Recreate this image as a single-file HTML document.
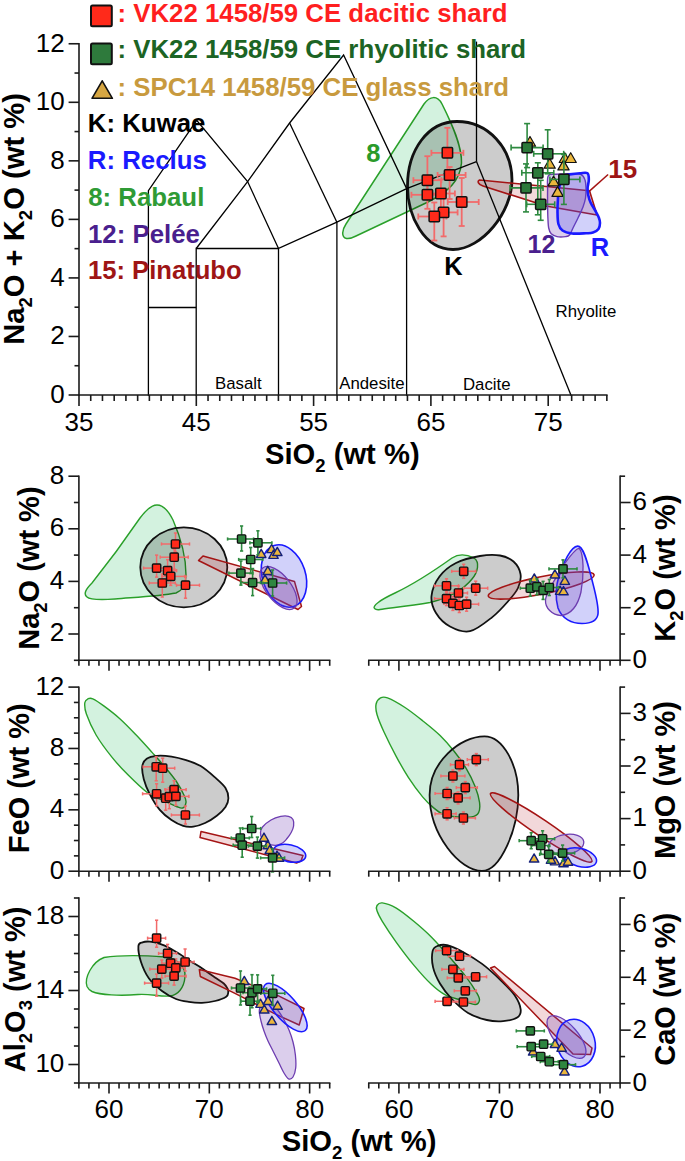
<!DOCTYPE html><html><head><meta charset="utf-8"><style>html,body{margin:0;padding:0;background:#fff;}svg{display:block;font-family:"Liberation Sans", sans-serif;}</style></head><body>
<svg width="685" height="1161" viewBox="0 0 685 1161">
<rect width="685" height="1161" fill="#fff"/>
<path d="M346.5,238.5 C341,237 342,230 346,224 L424,104 C430,96 437,95 442,104 C452,124 462,146 461.5,163 C460,181 448,192 428,202 L356,236 C352,238 349,239 346.5,238.5 Z" fill="rgba(70,200,120,0.24)" stroke="#2aa02a" stroke-width="1.5" stroke-linejoin="round"/>
<path d="M457,121.5 C488,121.5 512,148 512,180 C512,212 482,249.5 453,249.5 C424,249.5 407.5,216 407.5,186 C407.5,150 428,121.5 457,121.5 Z" fill="rgba(0,0,0,0.2)" stroke="#111" stroke-width="2.8" stroke-linejoin="round"/>
<path d="M479.5,180 L589.5,190.8 L597,215 L546,206 L483,186 C478,184.5 477,181 479.5,180 Z" fill="rgba(185,40,50,0.18)" stroke="#a41414" stroke-width="1.6" stroke-linejoin="round"/>
<path d="M548.20,176.00 C546.80,178.63 547.70,185.17 547.60,190.00 C547.50,194.83 547.55,200.33 547.60,205.00 C547.65,209.67 547.72,214.17 547.90,218.00 C548.08,221.83 548.15,225.37 548.70,228.00 C549.25,230.63 549.82,232.37 551.20,233.80 C552.58,235.23 554.62,236.13 557.00,236.60 C559.38,237.07 563.40,236.87 565.50,236.60 C567.60,236.33 568.35,236.43 569.60,235.00 C570.85,233.57 571.60,230.83 573.00,228.00 C574.40,225.17 576.33,221.50 578.00,218.00 C579.67,214.50 581.75,210.33 583.00,207.00 C584.25,203.67 585.00,201.17 585.50,198.00 C586.00,194.83 586.08,191.00 586.00,188.00 C585.92,185.00 585.83,182.25 585.00,180.00 C584.17,177.75 583.50,175.57 581.00,174.50 C578.50,173.43 574.17,173.65 570.00,173.60 C565.83,173.55 559.63,173.80 556.00,174.20 C552.37,174.60 549.60,173.37 548.20,176.00 Z" fill="rgba(110,60,180,0.25)" stroke="#6d3db0" stroke-width="1.4" stroke-linejoin="round"/>
<path d="M569.60,174.40 C572.02,174.02 577.02,173.40 580.00,173.20 C582.98,173.00 586.03,172.07 587.50,173.20 C588.97,174.33 588.78,177.53 588.80,180.00 C588.82,182.47 587.70,185.50 587.60,188.00 C587.50,190.50 587.67,192.50 588.20,195.00 C588.73,197.50 589.63,200.42 590.80,203.00 C591.97,205.58 593.87,208.08 595.20,210.50 C596.53,212.92 598.00,215.42 598.80,217.50 C599.60,219.58 600.05,221.08 600.00,223.00 C599.95,224.92 599.67,227.40 598.50,229.00 C597.33,230.60 595.08,231.88 593.00,232.60 C590.92,233.32 589.50,233.15 586.00,233.30 C582.50,233.45 575.92,233.97 572.00,233.50 C568.08,233.03 564.77,232.08 562.50,230.50 C560.23,228.92 559.23,227.08 558.40,224.00 C557.57,220.92 557.58,216.17 557.50,212.00 C557.42,207.83 557.65,203.00 557.90,199.00 C558.15,195.00 558.32,191.25 559.00,188.00 C559.68,184.75 560.92,181.58 562.00,179.50 C563.08,177.42 564.23,176.35 565.50,175.50 C566.77,174.65 567.18,174.78 569.60,174.40 Z" fill="rgba(70,70,235,0.25)" stroke="#1a1aff" stroke-width="2.6" stroke-linejoin="round"/>
<line x1="589.70" y1="190.90" x2="608.10" y2="174.50" stroke="#a41414" stroke-width="1.5" />
<polyline points="148.40,395.80 148.40,190.60 196.70,120.40 247.60,181.60 278.50,248.50" fill="none" stroke="#000" stroke-width="1.3"/>
<polyline points="148.40,307.50 196.20,307.50" fill="none" stroke="#000" stroke-width="1.3"/>
<polyline points="196.20,395.80 196.20,248.50 278.50,248.50" fill="none" stroke="#000" stroke-width="1.3"/>
<polyline points="278.50,395.80 278.50,248.50 336.90,222.20 406.60,188.60 476.50,161.60" fill="none" stroke="#000" stroke-width="1.3"/>
<polyline points="336.90,395.80 336.90,222.20" fill="none" stroke="#000" stroke-width="1.3"/>
<polyline points="406.60,395.80 406.60,188.60" fill="none" stroke="#000" stroke-width="1.3"/>
<polyline points="196.20,248.50 247.60,181.60 289.60,123.00 343.60,55.00 406.60,188.60" fill="none" stroke="#000" stroke-width="1.3"/>
<polyline points="289.60,123.00 336.90,222.20" fill="none" stroke="#000" stroke-width="1.3"/>
<polyline points="476.50,161.60 476.50,41.60" fill="none" stroke="#000" stroke-width="1.3"/>
<polyline points="476.50,161.60 571.20,395.80" fill="none" stroke="#000" stroke-width="1.3"/>
<text x="215.00" y="388.50" font-size="16.8" text-anchor="start" font-weight="normal" fill="#000" >Basalt</text>
<text x="339.20" y="388.50" font-size="16.8" text-anchor="start" font-weight="normal" fill="#000" >Andesite</text>
<text x="463.00" y="389.50" font-size="16.8" text-anchor="start" font-weight="normal" fill="#000" >Dacite</text>
<text x="555.60" y="316.50" font-size="16.8" text-anchor="start" font-weight="normal" fill="#000" >Rhyolite</text>
<line x1="79.00" y1="43.06" x2="79.00" y2="395.70" stroke="#1a1a1a" stroke-width="1.6" />
<line x1="78.30" y1="395.00" x2="607.60" y2="395.00" stroke="#1a1a1a" stroke-width="1.6" />
<line x1="68.60" y1="395.00" x2="79.00" y2="395.00" stroke="#1a1a1a" stroke-width="1.6" />
<text x="64.60" y="403.00" font-size="26" text-anchor="end" font-weight="normal" fill="#000" >0</text>
<line x1="74.50" y1="365.73" x2="79.00" y2="365.73" stroke="#1a1a1a" stroke-width="1.6" />
<line x1="68.60" y1="336.46" x2="79.00" y2="336.46" stroke="#1a1a1a" stroke-width="1.6" />
<text x="64.60" y="344.46" font-size="26" text-anchor="end" font-weight="normal" fill="#000" >2</text>
<line x1="74.50" y1="307.19" x2="79.00" y2="307.19" stroke="#1a1a1a" stroke-width="1.6" />
<line x1="68.60" y1="277.92" x2="79.00" y2="277.92" stroke="#1a1a1a" stroke-width="1.6" />
<text x="64.60" y="285.92" font-size="26" text-anchor="end" font-weight="normal" fill="#000" >4</text>
<line x1="74.50" y1="248.65" x2="79.00" y2="248.65" stroke="#1a1a1a" stroke-width="1.6" />
<line x1="68.60" y1="219.38" x2="79.00" y2="219.38" stroke="#1a1a1a" stroke-width="1.6" />
<text x="64.60" y="227.38" font-size="26" text-anchor="end" font-weight="normal" fill="#000" >6</text>
<line x1="74.50" y1="190.11" x2="79.00" y2="190.11" stroke="#1a1a1a" stroke-width="1.6" />
<line x1="68.60" y1="160.84" x2="79.00" y2="160.84" stroke="#1a1a1a" stroke-width="1.6" />
<text x="64.60" y="168.84" font-size="26" text-anchor="end" font-weight="normal" fill="#000" >8</text>
<line x1="74.50" y1="131.57" x2="79.00" y2="131.57" stroke="#1a1a1a" stroke-width="1.6" />
<line x1="68.60" y1="102.30" x2="79.00" y2="102.30" stroke="#1a1a1a" stroke-width="1.6" />
<text x="64.60" y="110.30" font-size="26" text-anchor="end" font-weight="normal" fill="#000" >10</text>
<line x1="74.50" y1="73.03" x2="79.00" y2="73.03" stroke="#1a1a1a" stroke-width="1.6" />
<line x1="68.60" y1="43.76" x2="79.00" y2="43.76" stroke="#1a1a1a" stroke-width="1.6" />
<text x="64.60" y="51.76" font-size="26" text-anchor="end" font-weight="normal" fill="#000" >12</text>
<line x1="79.00" y1="395.00" x2="79.00" y2="406.00" stroke="#1a1a1a" stroke-width="1.6" />
<text x="79.00" y="431.00" font-size="26" text-anchor="middle" font-weight="normal" fill="#000" >35</text>
<line x1="90.73" y1="395.00" x2="90.73" y2="401.00" stroke="#1a1a1a" stroke-width="1.6" />
<line x1="102.46" y1="395.00" x2="102.46" y2="401.00" stroke="#1a1a1a" stroke-width="1.6" />
<line x1="114.19" y1="395.00" x2="114.19" y2="401.00" stroke="#1a1a1a" stroke-width="1.6" />
<line x1="125.92" y1="395.00" x2="125.92" y2="401.00" stroke="#1a1a1a" stroke-width="1.6" />
<line x1="137.65" y1="395.00" x2="137.65" y2="401.00" stroke="#1a1a1a" stroke-width="1.6" />
<line x1="149.38" y1="395.00" x2="149.38" y2="401.00" stroke="#1a1a1a" stroke-width="1.6" />
<line x1="161.11" y1="395.00" x2="161.11" y2="401.00" stroke="#1a1a1a" stroke-width="1.6" />
<line x1="172.84" y1="395.00" x2="172.84" y2="401.00" stroke="#1a1a1a" stroke-width="1.6" />
<line x1="184.57" y1="395.00" x2="184.57" y2="401.00" stroke="#1a1a1a" stroke-width="1.6" />
<line x1="196.30" y1="395.00" x2="196.30" y2="406.00" stroke="#1a1a1a" stroke-width="1.6" />
<text x="196.30" y="431.00" font-size="26" text-anchor="middle" font-weight="normal" fill="#000" >45</text>
<line x1="208.03" y1="395.00" x2="208.03" y2="401.00" stroke="#1a1a1a" stroke-width="1.6" />
<line x1="219.76" y1="395.00" x2="219.76" y2="401.00" stroke="#1a1a1a" stroke-width="1.6" />
<line x1="231.49" y1="395.00" x2="231.49" y2="401.00" stroke="#1a1a1a" stroke-width="1.6" />
<line x1="243.22" y1="395.00" x2="243.22" y2="401.00" stroke="#1a1a1a" stroke-width="1.6" />
<line x1="254.95" y1="395.00" x2="254.95" y2="401.00" stroke="#1a1a1a" stroke-width="1.6" />
<line x1="266.68" y1="395.00" x2="266.68" y2="401.00" stroke="#1a1a1a" stroke-width="1.6" />
<line x1="278.41" y1="395.00" x2="278.41" y2="401.00" stroke="#1a1a1a" stroke-width="1.6" />
<line x1="290.14" y1="395.00" x2="290.14" y2="401.00" stroke="#1a1a1a" stroke-width="1.6" />
<line x1="301.87" y1="395.00" x2="301.87" y2="401.00" stroke="#1a1a1a" stroke-width="1.6" />
<line x1="313.60" y1="395.00" x2="313.60" y2="406.00" stroke="#1a1a1a" stroke-width="1.6" />
<text x="313.60" y="431.00" font-size="26" text-anchor="middle" font-weight="normal" fill="#000" >55</text>
<line x1="325.33" y1="395.00" x2="325.33" y2="401.00" stroke="#1a1a1a" stroke-width="1.6" />
<line x1="337.06" y1="395.00" x2="337.06" y2="401.00" stroke="#1a1a1a" stroke-width="1.6" />
<line x1="348.79" y1="395.00" x2="348.79" y2="401.00" stroke="#1a1a1a" stroke-width="1.6" />
<line x1="360.52" y1="395.00" x2="360.52" y2="401.00" stroke="#1a1a1a" stroke-width="1.6" />
<line x1="372.25" y1="395.00" x2="372.25" y2="401.00" stroke="#1a1a1a" stroke-width="1.6" />
<line x1="383.98" y1="395.00" x2="383.98" y2="401.00" stroke="#1a1a1a" stroke-width="1.6" />
<line x1="395.71" y1="395.00" x2="395.71" y2="401.00" stroke="#1a1a1a" stroke-width="1.6" />
<line x1="407.44" y1="395.00" x2="407.44" y2="401.00" stroke="#1a1a1a" stroke-width="1.6" />
<line x1="419.17" y1="395.00" x2="419.17" y2="401.00" stroke="#1a1a1a" stroke-width="1.6" />
<line x1="430.90" y1="395.00" x2="430.90" y2="406.00" stroke="#1a1a1a" stroke-width="1.6" />
<text x="430.90" y="431.00" font-size="26" text-anchor="middle" font-weight="normal" fill="#000" >65</text>
<line x1="442.63" y1="395.00" x2="442.63" y2="401.00" stroke="#1a1a1a" stroke-width="1.6" />
<line x1="454.36" y1="395.00" x2="454.36" y2="401.00" stroke="#1a1a1a" stroke-width="1.6" />
<line x1="466.09" y1="395.00" x2="466.09" y2="401.00" stroke="#1a1a1a" stroke-width="1.6" />
<line x1="477.82" y1="395.00" x2="477.82" y2="401.00" stroke="#1a1a1a" stroke-width="1.6" />
<line x1="489.55" y1="395.00" x2="489.55" y2="401.00" stroke="#1a1a1a" stroke-width="1.6" />
<line x1="501.28" y1="395.00" x2="501.28" y2="401.00" stroke="#1a1a1a" stroke-width="1.6" />
<line x1="513.01" y1="395.00" x2="513.01" y2="401.00" stroke="#1a1a1a" stroke-width="1.6" />
<line x1="524.74" y1="395.00" x2="524.74" y2="401.00" stroke="#1a1a1a" stroke-width="1.6" />
<line x1="536.47" y1="395.00" x2="536.47" y2="401.00" stroke="#1a1a1a" stroke-width="1.6" />
<line x1="548.20" y1="395.00" x2="548.20" y2="406.00" stroke="#1a1a1a" stroke-width="1.6" />
<text x="548.20" y="431.00" font-size="26" text-anchor="middle" font-weight="normal" fill="#000" >75</text>
<line x1="559.93" y1="395.00" x2="559.93" y2="401.00" stroke="#1a1a1a" stroke-width="1.6" />
<line x1="571.66" y1="395.00" x2="571.66" y2="401.00" stroke="#1a1a1a" stroke-width="1.6" />
<line x1="583.39" y1="395.00" x2="583.39" y2="401.00" stroke="#1a1a1a" stroke-width="1.6" />
<line x1="595.12" y1="395.00" x2="595.12" y2="401.00" stroke="#1a1a1a" stroke-width="1.6" />
<line x1="606.85" y1="395.00" x2="606.85" y2="401.00" stroke="#1a1a1a" stroke-width="1.6" />
<line x1="431.40" y1="152.80" x2="463.40" y2="152.80" stroke="#f26a6a" stroke-width="1.8" />
<line x1="431.40" y1="149.80" x2="431.40" y2="155.80" stroke="#f26a6a" stroke-width="1.8" />
<line x1="463.40" y1="149.80" x2="463.40" y2="155.80" stroke="#f26a6a" stroke-width="1.8" />
<line x1="447.40" y1="127.80" x2="447.40" y2="176.80" stroke="#f26a6a" stroke-width="1.8" />
<line x1="444.40" y1="127.80" x2="450.40" y2="127.80" stroke="#f26a6a" stroke-width="1.8" />
<line x1="444.40" y1="176.80" x2="450.40" y2="176.80" stroke="#f26a6a" stroke-width="1.8" />
<line x1="437.60" y1="175.00" x2="465.60" y2="175.00" stroke="#f26a6a" stroke-width="1.8" />
<line x1="437.60" y1="172.00" x2="437.60" y2="178.00" stroke="#f26a6a" stroke-width="1.8" />
<line x1="465.60" y1="172.00" x2="465.60" y2="178.00" stroke="#f26a6a" stroke-width="1.8" />
<line x1="449.60" y1="167.00" x2="449.60" y2="199.00" stroke="#f26a6a" stroke-width="1.8" />
<line x1="446.60" y1="167.00" x2="452.60" y2="167.00" stroke="#f26a6a" stroke-width="1.8" />
<line x1="446.60" y1="199.00" x2="452.60" y2="199.00" stroke="#f26a6a" stroke-width="1.8" />
<line x1="413.40" y1="180.20" x2="441.40" y2="180.20" stroke="#f26a6a" stroke-width="1.8" />
<line x1="413.40" y1="177.20" x2="413.40" y2="183.20" stroke="#f26a6a" stroke-width="1.8" />
<line x1="441.40" y1="177.20" x2="441.40" y2="183.20" stroke="#f26a6a" stroke-width="1.8" />
<line x1="427.40" y1="156.20" x2="427.40" y2="190.20" stroke="#f26a6a" stroke-width="1.8" />
<line x1="424.40" y1="156.20" x2="430.40" y2="156.20" stroke="#f26a6a" stroke-width="1.8" />
<line x1="424.40" y1="190.20" x2="430.40" y2="190.20" stroke="#f26a6a" stroke-width="1.8" />
<line x1="411.40" y1="194.80" x2="441.40" y2="194.80" stroke="#f26a6a" stroke-width="1.8" />
<line x1="411.40" y1="191.80" x2="411.40" y2="197.80" stroke="#f26a6a" stroke-width="1.8" />
<line x1="441.40" y1="191.80" x2="441.40" y2="197.80" stroke="#f26a6a" stroke-width="1.8" />
<line x1="427.40" y1="182.80" x2="427.40" y2="208.80" stroke="#f26a6a" stroke-width="1.8" />
<line x1="424.40" y1="182.80" x2="430.40" y2="182.80" stroke="#f26a6a" stroke-width="1.8" />
<line x1="424.40" y1="208.80" x2="430.40" y2="208.80" stroke="#f26a6a" stroke-width="1.8" />
<line x1="426.90" y1="193.50" x2="454.90" y2="193.50" stroke="#f26a6a" stroke-width="1.8" />
<line x1="426.90" y1="190.50" x2="426.90" y2="196.50" stroke="#f26a6a" stroke-width="1.8" />
<line x1="454.90" y1="190.50" x2="454.90" y2="196.50" stroke="#f26a6a" stroke-width="1.8" />
<line x1="440.90" y1="179.50" x2="440.90" y2="209.50" stroke="#f26a6a" stroke-width="1.8" />
<line x1="437.90" y1="179.50" x2="443.90" y2="179.50" stroke="#f26a6a" stroke-width="1.8" />
<line x1="437.90" y1="209.50" x2="443.90" y2="209.50" stroke="#f26a6a" stroke-width="1.8" />
<line x1="447.70" y1="202.00" x2="478.70" y2="202.00" stroke="#f26a6a" stroke-width="1.8" />
<line x1="447.70" y1="199.00" x2="447.70" y2="205.00" stroke="#f26a6a" stroke-width="1.8" />
<line x1="478.70" y1="199.00" x2="478.70" y2="205.00" stroke="#f26a6a" stroke-width="1.8" />
<line x1="461.70" y1="178.00" x2="461.70" y2="226.00" stroke="#f26a6a" stroke-width="1.8" />
<line x1="458.70" y1="178.00" x2="464.70" y2="178.00" stroke="#f26a6a" stroke-width="1.8" />
<line x1="458.70" y1="226.00" x2="464.70" y2="226.00" stroke="#f26a6a" stroke-width="1.8" />
<line x1="429.60" y1="212.40" x2="457.60" y2="212.40" stroke="#f26a6a" stroke-width="1.8" />
<line x1="429.60" y1="209.40" x2="429.60" y2="215.40" stroke="#f26a6a" stroke-width="1.8" />
<line x1="457.60" y1="209.40" x2="457.60" y2="215.40" stroke="#f26a6a" stroke-width="1.8" />
<line x1="443.60" y1="192.40" x2="443.60" y2="236.40" stroke="#f26a6a" stroke-width="1.8" />
<line x1="440.60" y1="192.40" x2="446.60" y2="192.40" stroke="#f26a6a" stroke-width="1.8" />
<line x1="440.60" y1="236.40" x2="446.60" y2="236.40" stroke="#f26a6a" stroke-width="1.8" />
<line x1="418.30" y1="216.50" x2="446.30" y2="216.50" stroke="#f26a6a" stroke-width="1.8" />
<line x1="418.30" y1="213.50" x2="418.30" y2="219.50" stroke="#f26a6a" stroke-width="1.8" />
<line x1="446.30" y1="213.50" x2="446.30" y2="219.50" stroke="#f26a6a" stroke-width="1.8" />
<line x1="434.30" y1="202.50" x2="434.30" y2="240.50" stroke="#f26a6a" stroke-width="1.8" />
<line x1="431.30" y1="202.50" x2="437.30" y2="202.50" stroke="#f26a6a" stroke-width="1.8" />
<line x1="431.30" y1="240.50" x2="437.30" y2="240.50" stroke="#f26a6a" stroke-width="1.8" />
<polygon points="530.00,136.45 535.60,146.20 524.40,146.20" fill="#ebb63c" stroke="#111" stroke-width="1.2" stroke-linejoin="round"/>
<polygon points="549.70,158.45 555.30,168.20 544.10,168.20" fill="#ebb63c" stroke="#111" stroke-width="1.2" stroke-linejoin="round"/>
<polygon points="564.80,152.75 570.40,162.50 559.20,162.50" fill="#ebb63c" stroke="#111" stroke-width="1.2" stroke-linejoin="round"/>
<polygon points="570.70,152.75 576.30,162.50 565.10,162.50" fill="#ebb63c" stroke="#111" stroke-width="1.2" stroke-linejoin="round"/>
<polygon points="563.50,160.15 569.10,169.90 557.90,169.90" fill="#ebb63c" stroke="#111" stroke-width="1.2" stroke-linejoin="round"/>
<polygon points="553.60,176.15 559.20,185.90 548.00,185.90" fill="#ebb63c" stroke="#111" stroke-width="1.2" stroke-linejoin="round"/>
<polygon points="557.60,186.65 563.20,196.40 552.00,196.40" fill="#ebb63c" stroke="#111" stroke-width="1.2" stroke-linejoin="round"/>
<line x1="511.10" y1="147.60" x2="543.10" y2="147.60" stroke="#2e8a40" stroke-width="1.6" />
<line x1="511.10" y1="144.60" x2="511.10" y2="150.60" stroke="#2e8a40" stroke-width="1.6" />
<line x1="543.10" y1="144.60" x2="543.10" y2="150.60" stroke="#2e8a40" stroke-width="1.6" />
<line x1="527.10" y1="123.60" x2="527.10" y2="167.60" stroke="#2e8a40" stroke-width="1.6" />
<line x1="524.10" y1="123.60" x2="530.10" y2="123.60" stroke="#2e8a40" stroke-width="1.6" />
<line x1="524.10" y1="167.60" x2="530.10" y2="167.60" stroke="#2e8a40" stroke-width="1.6" />
<line x1="533.70" y1="153.80" x2="563.70" y2="153.80" stroke="#2e8a40" stroke-width="1.6" />
<line x1="533.70" y1="150.80" x2="533.70" y2="156.80" stroke="#2e8a40" stroke-width="1.6" />
<line x1="563.70" y1="150.80" x2="563.70" y2="156.80" stroke="#2e8a40" stroke-width="1.6" />
<line x1="547.70" y1="129.80" x2="547.70" y2="173.80" stroke="#2e8a40" stroke-width="1.6" />
<line x1="544.70" y1="129.80" x2="550.70" y2="129.80" stroke="#2e8a40" stroke-width="1.6" />
<line x1="544.70" y1="173.80" x2="550.70" y2="173.80" stroke="#2e8a40" stroke-width="1.6" />
<line x1="521.80" y1="172.80" x2="553.80" y2="172.80" stroke="#2e8a40" stroke-width="1.6" />
<line x1="521.80" y1="169.80" x2="521.80" y2="175.80" stroke="#2e8a40" stroke-width="1.6" />
<line x1="553.80" y1="169.80" x2="553.80" y2="175.80" stroke="#2e8a40" stroke-width="1.6" />
<line x1="537.80" y1="162.80" x2="537.80" y2="214.80" stroke="#2e8a40" stroke-width="1.6" />
<line x1="534.80" y1="162.80" x2="540.80" y2="162.80" stroke="#2e8a40" stroke-width="1.6" />
<line x1="534.80" y1="214.80" x2="540.80" y2="214.80" stroke="#2e8a40" stroke-width="1.6" />
<line x1="549.90" y1="179.40" x2="579.90" y2="179.40" stroke="#2e8a40" stroke-width="1.6" />
<line x1="549.90" y1="176.40" x2="549.90" y2="182.40" stroke="#2e8a40" stroke-width="1.6" />
<line x1="579.90" y1="176.40" x2="579.90" y2="182.40" stroke="#2e8a40" stroke-width="1.6" />
<line x1="563.90" y1="154.40" x2="563.90" y2="204.40" stroke="#2e8a40" stroke-width="1.6" />
<line x1="560.90" y1="154.40" x2="566.90" y2="154.40" stroke="#2e8a40" stroke-width="1.6" />
<line x1="560.90" y1="204.40" x2="566.90" y2="204.40" stroke="#2e8a40" stroke-width="1.6" />
<line x1="510.00" y1="187.90" x2="543.00" y2="187.90" stroke="#2e8a40" stroke-width="1.6" />
<line x1="510.00" y1="184.90" x2="510.00" y2="190.90" stroke="#2e8a40" stroke-width="1.6" />
<line x1="543.00" y1="184.90" x2="543.00" y2="190.90" stroke="#2e8a40" stroke-width="1.6" />
<line x1="526.00" y1="163.90" x2="526.00" y2="211.90" stroke="#2e8a40" stroke-width="1.6" />
<line x1="523.00" y1="163.90" x2="529.00" y2="163.90" stroke="#2e8a40" stroke-width="1.6" />
<line x1="523.00" y1="211.90" x2="529.00" y2="211.90" stroke="#2e8a40" stroke-width="1.6" />
<line x1="526.70" y1="204.30" x2="554.70" y2="204.30" stroke="#2e8a40" stroke-width="1.6" />
<line x1="526.70" y1="201.30" x2="526.70" y2="207.30" stroke="#2e8a40" stroke-width="1.6" />
<line x1="554.70" y1="201.30" x2="554.70" y2="207.30" stroke="#2e8a40" stroke-width="1.6" />
<line x1="540.70" y1="180.30" x2="540.70" y2="220.30" stroke="#2e8a40" stroke-width="1.6" />
<line x1="537.70" y1="180.30" x2="543.70" y2="180.30" stroke="#2e8a40" stroke-width="1.6" />
<line x1="537.70" y1="220.30" x2="543.70" y2="220.30" stroke="#2e8a40" stroke-width="1.6" />
<rect x="522.00" y="142.50" width="10.2" height="10.2" rx="1" fill="#2c7a3a" stroke="#111" stroke-width="1.5"/>
<rect x="542.60" y="148.70" width="10.2" height="10.2" rx="1" fill="#2c7a3a" stroke="#111" stroke-width="1.5"/>
<rect x="532.70" y="167.70" width="10.2" height="10.2" rx="1" fill="#2c7a3a" stroke="#111" stroke-width="1.5"/>
<rect x="558.80" y="174.30" width="10.2" height="10.2" rx="1" fill="#2c7a3a" stroke="#111" stroke-width="1.5"/>
<rect x="520.90" y="182.80" width="10.2" height="10.2" rx="1" fill="#2c7a3a" stroke="#111" stroke-width="1.5"/>
<rect x="535.60" y="199.20" width="10.2" height="10.2" rx="1" fill="#2c7a3a" stroke="#111" stroke-width="1.5"/>
<rect x="442.20" y="147.60" width="10.4" height="10.4" rx="1" fill="#ff2a1a" stroke="#111" stroke-width="1.5"/>
<rect x="444.40" y="169.80" width="10.4" height="10.4" rx="1" fill="#ff2a1a" stroke="#111" stroke-width="1.5"/>
<rect x="422.20" y="175.00" width="10.4" height="10.4" rx="1" fill="#ff2a1a" stroke="#111" stroke-width="1.5"/>
<rect x="422.20" y="189.60" width="10.4" height="10.4" rx="1" fill="#ff2a1a" stroke="#111" stroke-width="1.5"/>
<rect x="435.70" y="188.30" width="10.4" height="10.4" rx="1" fill="#ff2a1a" stroke="#111" stroke-width="1.5"/>
<rect x="456.50" y="196.80" width="10.4" height="10.4" rx="1" fill="#ff2a1a" stroke="#111" stroke-width="1.5"/>
<rect x="438.40" y="207.20" width="10.4" height="10.4" rx="1" fill="#ff2a1a" stroke="#111" stroke-width="1.5"/>
<rect x="429.10" y="211.30" width="10.4" height="10.4" rx="1" fill="#ff2a1a" stroke="#111" stroke-width="1.5"/>
<rect x="91" y="5.5" width="20.8" height="20.8" rx="1.5" fill="#ff2a1a" stroke="#111" stroke-width="2"/>
<rect x="91" y="43.5" width="20.8" height="20.8" rx="1.5" fill="#2e7a3c" stroke="#111" stroke-width="2"/>
<polygon points="102.2,80.8 112.4,98.3 92,98.3" fill="#d6a642" stroke="#111" stroke-width="1.6" stroke-linejoin="round"/>
<text x="117.50" y="21.90" font-size="25.8" text-anchor="start" font-weight="bold" fill="#ff1f1f" >: VK22 1458/59 CE dacitic shard</text>
<text x="117.50" y="58.40" font-size="25.8" text-anchor="start" font-weight="bold" fill="#1c6424" >: VK22 1458/59 CE rhyolitic shard</text>
<text x="117.50" y="96.00" font-size="25.8" text-anchor="start" font-weight="bold" fill="#c89a3e" >: SPC14 1458/59 CE glass shard</text>
<text x="87.80" y="132.30" font-size="25.8" text-anchor="start" font-weight="bold" fill="#000" >K: Kuwae</text>
<text x="87.80" y="168.90" font-size="25.8" text-anchor="start" font-weight="bold" fill="#1a1aff" >R: Reclus</text>
<text x="88.20" y="205.70" font-size="25.8" text-anchor="start" font-weight="bold" fill="#2f9b35" >8: Rabaul</text>
<text x="88.00" y="242.50" font-size="25.8" text-anchor="start" font-weight="bold" fill="#4a1f8e" >12: Pel&#233;e</text>
<text x="88.00" y="279.40" font-size="25.6" text-anchor="start" font-weight="bold" fill="#9e1515" >15: Pinatubo</text>
<text x="366.30" y="162.00" font-size="25.5" text-anchor="start" font-weight="bold" fill="#2a9a2a" >8</text>
<text x="444.30" y="275.40" font-size="25.5" text-anchor="start" font-weight="bold" fill="#000" >K</text>
<text x="527.50" y="252.50" font-size="25" text-anchor="start" font-weight="bold" fill="#4a1f8e" >12</text>
<text x="590.80" y="256.10" font-size="25.5" text-anchor="start" font-weight="bold" fill="#1a1aff" >R</text>
<text x="608.30" y="178.10" font-size="26" text-anchor="start" font-weight="bold" fill="#9e1515" >15</text>
<text x="265" y="464" font-size="29.2" font-weight="bold">SiO<tspan font-size="18.5" dy="7.5">2</tspan><tspan dy="-7.5"> (wt %)</tspan></text>
<text transform="translate(24.4,344.8) rotate(-90)" font-size="29.2" font-weight="bold">Na<tspan font-size="18.5" dy="7.7">2</tspan><tspan dy="-7.7">O + K</tspan><tspan font-size="18.5" dy="7.7">2</tspan><tspan dy="-7.7">O (wt %)</tspan></text>
<path d="M87,597 C83,594 86,589 92,583 C108,563 125,540 140,518 C146,510 152,505 157,505 C163,505 168,510 173,520 C180,536 186,556 186,575 C186,585 183,590 176,593 C160,596 140,597 115,599 C100,600 90,600 87,597 Z" fill="rgba(70,200,120,0.24)" stroke="#2aa02a" stroke-width="1.4" stroke-linejoin="round"/>
<ellipse cx="183.8" cy="567.3" rx="43.5" ry="40" transform="rotate(0 183.8 567.3)" fill="rgba(0,0,0,0.2)" stroke="#111" stroke-width="1.8"/>
<path d="M198.5,560.5 L203,556 L294.5,581.5 L301.5,606.5 L298,609.5 Z" fill="rgba(185,40,50,0.18)" stroke="#a41414" stroke-width="1.5" stroke-linejoin="round"/>
<ellipse cx="284" cy="576" rx="21.5" ry="32" transform="rotate(-18 284 576)" fill="rgba(70,70,235,0.25)" stroke="#1a1aff" stroke-width="1.6"/>
<ellipse cx="278.5" cy="588" rx="25.5" ry="12.5" transform="rotate(52 278.5 588)" fill="rgba(110,60,180,0.25)" stroke="#6d3db0" stroke-width="1.3"/>
<line x1="161.50" y1="544.00" x2="189.50" y2="544.00" stroke="#f26a6a" stroke-width="1.5" />
<line x1="161.50" y1="542.40" x2="161.50" y2="545.60" stroke="#f26a6a" stroke-width="1.5" />
<line x1="189.50" y1="542.40" x2="189.50" y2="545.60" stroke="#f26a6a" stroke-width="1.5" />
<line x1="175.50" y1="533.00" x2="175.50" y2="552.00" stroke="#f26a6a" stroke-width="1.5" />
<line x1="173.90" y1="533.00" x2="177.10" y2="533.00" stroke="#f26a6a" stroke-width="1.5" />
<line x1="173.90" y1="552.00" x2="177.10" y2="552.00" stroke="#f26a6a" stroke-width="1.5" />
<line x1="160.20" y1="557.20" x2="188.20" y2="557.20" stroke="#f26a6a" stroke-width="1.5" />
<line x1="160.20" y1="555.60" x2="160.20" y2="558.80" stroke="#f26a6a" stroke-width="1.5" />
<line x1="188.20" y1="555.60" x2="188.20" y2="558.80" stroke="#f26a6a" stroke-width="1.5" />
<line x1="174.20" y1="549.20" x2="174.20" y2="569.20" stroke="#f26a6a" stroke-width="1.5" />
<line x1="172.60" y1="549.20" x2="175.80" y2="549.20" stroke="#f26a6a" stroke-width="1.5" />
<line x1="172.60" y1="569.20" x2="175.80" y2="569.20" stroke="#f26a6a" stroke-width="1.5" />
<line x1="143.60" y1="568.10" x2="169.60" y2="568.10" stroke="#f26a6a" stroke-width="1.5" />
<line x1="143.60" y1="566.50" x2="143.60" y2="569.70" stroke="#f26a6a" stroke-width="1.5" />
<line x1="169.60" y1="566.50" x2="169.60" y2="569.70" stroke="#f26a6a" stroke-width="1.5" />
<line x1="156.60" y1="555.10" x2="156.60" y2="577.10" stroke="#f26a6a" stroke-width="1.5" />
<line x1="155.00" y1="555.10" x2="158.20" y2="555.10" stroke="#f26a6a" stroke-width="1.5" />
<line x1="155.00" y1="577.10" x2="158.20" y2="577.10" stroke="#f26a6a" stroke-width="1.5" />
<line x1="158.60" y1="570.70" x2="176.60" y2="570.70" stroke="#f26a6a" stroke-width="1.5" />
<line x1="158.60" y1="569.10" x2="158.60" y2="572.30" stroke="#f26a6a" stroke-width="1.5" />
<line x1="176.60" y1="569.10" x2="176.60" y2="572.30" stroke="#f26a6a" stroke-width="1.5" />
<line x1="167.60" y1="559.70" x2="167.60" y2="580.70" stroke="#f26a6a" stroke-width="1.5" />
<line x1="166.00" y1="559.70" x2="169.20" y2="559.70" stroke="#f26a6a" stroke-width="1.5" />
<line x1="166.00" y1="580.70" x2="169.20" y2="580.70" stroke="#f26a6a" stroke-width="1.5" />
<line x1="161.70" y1="576.40" x2="184.70" y2="576.40" stroke="#f26a6a" stroke-width="1.5" />
<line x1="161.70" y1="574.80" x2="161.70" y2="578.00" stroke="#f26a6a" stroke-width="1.5" />
<line x1="184.70" y1="574.80" x2="184.70" y2="578.00" stroke="#f26a6a" stroke-width="1.5" />
<line x1="170.70" y1="566.40" x2="170.70" y2="585.40" stroke="#f26a6a" stroke-width="1.5" />
<line x1="169.10" y1="566.40" x2="172.30" y2="566.40" stroke="#f26a6a" stroke-width="1.5" />
<line x1="169.10" y1="585.40" x2="172.30" y2="585.40" stroke="#f26a6a" stroke-width="1.5" />
<line x1="149.30" y1="583.00" x2="175.30" y2="583.00" stroke="#f26a6a" stroke-width="1.5" />
<line x1="149.30" y1="581.40" x2="149.30" y2="584.60" stroke="#f26a6a" stroke-width="1.5" />
<line x1="175.30" y1="581.40" x2="175.30" y2="584.60" stroke="#f26a6a" stroke-width="1.5" />
<line x1="162.30" y1="574.00" x2="162.30" y2="597.00" stroke="#f26a6a" stroke-width="1.5" />
<line x1="160.70" y1="574.00" x2="163.90" y2="574.00" stroke="#f26a6a" stroke-width="1.5" />
<line x1="160.70" y1="597.00" x2="163.90" y2="597.00" stroke="#f26a6a" stroke-width="1.5" />
<line x1="176.50" y1="585.20" x2="199.50" y2="585.20" stroke="#f26a6a" stroke-width="1.5" />
<line x1="176.50" y1="583.60" x2="176.50" y2="586.80" stroke="#f26a6a" stroke-width="1.5" />
<line x1="199.50" y1="583.60" x2="199.50" y2="586.80" stroke="#f26a6a" stroke-width="1.5" />
<line x1="185.50" y1="576.20" x2="185.50" y2="598.20" stroke="#f26a6a" stroke-width="1.5" />
<line x1="183.90" y1="576.20" x2="187.10" y2="576.20" stroke="#f26a6a" stroke-width="1.5" />
<line x1="183.90" y1="598.20" x2="187.10" y2="598.20" stroke="#f26a6a" stroke-width="1.5" />
<polygon points="261.20,549.29 265.90,557.47 256.50,557.47" fill="#ebb63c" stroke="#14207a" stroke-width="1.4" stroke-linejoin="round"/>
<polygon points="271.60,544.49 276.30,552.67 266.90,552.67" fill="#ebb63c" stroke="#14207a" stroke-width="1.4" stroke-linejoin="round"/>
<polygon points="273.50,550.19 278.20,558.37 268.80,558.37" fill="#ebb63c" stroke="#14207a" stroke-width="1.4" stroke-linejoin="round"/>
<polygon points="277.30,547.39 282.00,555.57 272.60,555.57" fill="#ebb63c" stroke="#14207a" stroke-width="1.4" stroke-linejoin="round"/>
<polygon points="267.80,566.29 272.50,574.47 263.10,574.47" fill="#ebb63c" stroke="#14207a" stroke-width="1.4" stroke-linejoin="round"/>
<polygon points="265.00,574.89 269.70,583.07 260.30,583.07" fill="#ebb63c" stroke="#14207a" stroke-width="1.4" stroke-linejoin="round"/>
<line x1="227.60" y1="539.00" x2="253.60" y2="539.00" stroke="#2e8a40" stroke-width="1.6" />
<line x1="227.60" y1="537.40" x2="227.60" y2="540.60" stroke="#2e8a40" stroke-width="1.6" />
<line x1="253.60" y1="537.40" x2="253.60" y2="540.60" stroke="#2e8a40" stroke-width="1.6" />
<line x1="241.60" y1="526.00" x2="241.60" y2="551.00" stroke="#2e8a40" stroke-width="1.6" />
<line x1="240.00" y1="526.00" x2="243.20" y2="526.00" stroke="#2e8a40" stroke-width="1.6" />
<line x1="240.00" y1="551.00" x2="243.20" y2="551.00" stroke="#2e8a40" stroke-width="1.6" />
<line x1="249.90" y1="542.80" x2="271.90" y2="542.80" stroke="#2e8a40" stroke-width="1.6" />
<line x1="249.90" y1="541.20" x2="249.90" y2="544.40" stroke="#2e8a40" stroke-width="1.6" />
<line x1="271.90" y1="541.20" x2="271.90" y2="544.40" stroke="#2e8a40" stroke-width="1.6" />
<line x1="257.90" y1="530.80" x2="257.90" y2="554.80" stroke="#2e8a40" stroke-width="1.6" />
<line x1="256.30" y1="530.80" x2="259.50" y2="530.80" stroke="#2e8a40" stroke-width="1.6" />
<line x1="256.30" y1="554.80" x2="259.50" y2="554.80" stroke="#2e8a40" stroke-width="1.6" />
<line x1="238.70" y1="559.50" x2="262.70" y2="559.50" stroke="#2e8a40" stroke-width="1.6" />
<line x1="238.70" y1="557.90" x2="238.70" y2="561.10" stroke="#2e8a40" stroke-width="1.6" />
<line x1="262.70" y1="557.90" x2="262.70" y2="561.10" stroke="#2e8a40" stroke-width="1.6" />
<line x1="250.70" y1="547.50" x2="250.70" y2="573.50" stroke="#2e8a40" stroke-width="1.6" />
<line x1="249.10" y1="547.50" x2="252.30" y2="547.50" stroke="#2e8a40" stroke-width="1.6" />
<line x1="249.10" y1="573.50" x2="252.30" y2="573.50" stroke="#2e8a40" stroke-width="1.6" />
<line x1="228.90" y1="573.10" x2="252.90" y2="573.10" stroke="#2e8a40" stroke-width="1.6" />
<line x1="228.90" y1="571.50" x2="228.90" y2="574.70" stroke="#2e8a40" stroke-width="1.6" />
<line x1="252.90" y1="571.50" x2="252.90" y2="574.70" stroke="#2e8a40" stroke-width="1.6" />
<line x1="240.90" y1="561.10" x2="240.90" y2="585.10" stroke="#2e8a40" stroke-width="1.6" />
<line x1="239.30" y1="561.10" x2="242.50" y2="561.10" stroke="#2e8a40" stroke-width="1.6" />
<line x1="239.30" y1="585.10" x2="242.50" y2="585.10" stroke="#2e8a40" stroke-width="1.6" />
<line x1="240.60" y1="582.60" x2="260.60" y2="582.60" stroke="#2e8a40" stroke-width="1.6" />
<line x1="240.60" y1="581.00" x2="240.60" y2="584.20" stroke="#2e8a40" stroke-width="1.6" />
<line x1="260.60" y1="581.00" x2="260.60" y2="584.20" stroke="#2e8a40" stroke-width="1.6" />
<line x1="252.60" y1="568.60" x2="252.60" y2="595.60" stroke="#2e8a40" stroke-width="1.6" />
<line x1="251.00" y1="568.60" x2="254.20" y2="568.60" stroke="#2e8a40" stroke-width="1.6" />
<line x1="251.00" y1="595.60" x2="254.20" y2="595.60" stroke="#2e8a40" stroke-width="1.6" />
<line x1="262.60" y1="583.00" x2="286.60" y2="583.00" stroke="#2e8a40" stroke-width="1.6" />
<line x1="262.60" y1="581.40" x2="262.60" y2="584.60" stroke="#2e8a40" stroke-width="1.6" />
<line x1="286.60" y1="581.40" x2="286.60" y2="584.60" stroke="#2e8a40" stroke-width="1.6" />
<line x1="272.60" y1="570.00" x2="272.60" y2="596.00" stroke="#2e8a40" stroke-width="1.6" />
<line x1="271.00" y1="570.00" x2="274.20" y2="570.00" stroke="#2e8a40" stroke-width="1.6" />
<line x1="271.00" y1="596.00" x2="274.20" y2="596.00" stroke="#2e8a40" stroke-width="1.6" />
<rect x="237.45" y="534.85" width="8.3" height="8.3" rx="1" fill="#2f8640" stroke="#111" stroke-width="1.4"/>
<rect x="253.75" y="538.65" width="8.3" height="8.3" rx="1" fill="#2f8640" stroke="#111" stroke-width="1.4"/>
<rect x="246.55" y="555.35" width="8.3" height="8.3" rx="1" fill="#2f8640" stroke="#111" stroke-width="1.4"/>
<rect x="236.75" y="568.95" width="8.3" height="8.3" rx="1" fill="#2f8640" stroke="#111" stroke-width="1.4"/>
<rect x="248.45" y="578.45" width="8.3" height="8.3" rx="1" fill="#2f8640" stroke="#111" stroke-width="1.4"/>
<rect x="268.45" y="578.85" width="8.3" height="8.3" rx="1" fill="#2f8640" stroke="#111" stroke-width="1.4"/>
<rect x="171.35" y="539.85" width="8.3" height="8.3" rx="1" fill="#ff2a1a" stroke="#111" stroke-width="1.4"/>
<rect x="170.05" y="553.05" width="8.3" height="8.3" rx="1" fill="#ff2a1a" stroke="#111" stroke-width="1.4"/>
<rect x="152.45" y="563.95" width="8.3" height="8.3" rx="1" fill="#ff2a1a" stroke="#111" stroke-width="1.4"/>
<rect x="163.45" y="566.55" width="8.3" height="8.3" rx="1" fill="#ff2a1a" stroke="#111" stroke-width="1.4"/>
<rect x="166.55" y="572.25" width="8.3" height="8.3" rx="1" fill="#ff2a1a" stroke="#111" stroke-width="1.4"/>
<rect x="158.15" y="578.85" width="8.3" height="8.3" rx="1" fill="#ff2a1a" stroke="#111" stroke-width="1.4"/>
<rect x="181.35" y="581.05" width="8.3" height="8.3" rx="1" fill="#ff2a1a" stroke="#111" stroke-width="1.4"/>
<path d="M374.5,608.5 C372,606 380,600 395,593 C418,582 438,568 452,558 C458,554 466,554 474,558 C480,562 478,572 472,579 C464,589 452,597 430,602.5 C410,606 390,608 380,609.5 C377,610 375.5,609.5 374.5,608.5 Z" fill="rgba(70,200,120,0.24)" stroke="#2aa02a" stroke-width="1.4" stroke-linejoin="round"/>
<path d="M431.50,596.00 C432.08,589.92 435.42,582.00 439.50,576.50 C443.58,571.00 449.25,566.42 456.00,563.00 C462.75,559.58 472.67,557.25 480.00,556.00 C487.33,554.75 494.42,554.58 500.00,555.50 C505.58,556.42 510.08,558.42 513.50,561.50 C516.92,564.58 519.75,569.58 520.50,574.00 C521.25,578.42 520.03,583.50 518.00,588.00 C515.97,592.50 512.58,596.15 508.30,601.00 C504.02,605.85 498.68,612.07 492.30,617.10 C485.92,622.13 477.05,629.63 470.00,631.20 C462.95,632.77 455.67,629.53 450.00,626.50 C444.33,623.47 439.08,618.08 436.00,613.00 C432.92,607.92 430.92,602.08 431.50,596.00 Z" fill="rgba(0,0,0,0.2)" stroke="#111" stroke-width="1.8" stroke-linejoin="round"/>
<ellipse cx="541.2" cy="585.5" rx="54" ry="8.6" transform="rotate(-11.4 541.2 585.5)" fill="rgba(185,40,50,0.18)" stroke="#a41414" stroke-width="1.6"/>
<path d="M577.6,546.1 C583,546 587,560 591,576 C595,592 599,605 598,614 C597,622 590,623.5 582,623.5 C572,623.5 562,619 558,608 C555,598 556,585 559,576 C563,563 571,546.5 577.6,546.1 Z" fill="rgba(70,70,235,0.25)" stroke="#1a1aff" stroke-width="1.6" stroke-linejoin="round"/>
<path d="M579.4,548.4 C584,555 584,575 581,592 C578,605 572,614 561,615.6 C552,615 545,608 545.5,600 C546,592 555,580 563,566 C570,556 576,548 579.4,548.4 Z" fill="rgba(110,60,180,0.25)" stroke="#6d3db0" stroke-width="1.3" stroke-linejoin="round"/>
<line x1="451.70" y1="571.30" x2="475.70" y2="571.30" stroke="#f26a6a" stroke-width="1.5" />
<line x1="451.70" y1="569.70" x2="451.70" y2="572.90" stroke="#f26a6a" stroke-width="1.5" />
<line x1="475.70" y1="569.70" x2="475.70" y2="572.90" stroke="#f26a6a" stroke-width="1.5" />
<line x1="463.70" y1="564.30" x2="463.70" y2="578.30" stroke="#f26a6a" stroke-width="1.5" />
<line x1="462.10" y1="564.30" x2="465.30" y2="564.30" stroke="#f26a6a" stroke-width="1.5" />
<line x1="462.10" y1="578.30" x2="465.30" y2="578.30" stroke="#f26a6a" stroke-width="1.5" />
<line x1="434.50" y1="585.80" x2="458.50" y2="585.80" stroke="#f26a6a" stroke-width="1.5" />
<line x1="434.50" y1="584.20" x2="434.50" y2="587.40" stroke="#f26a6a" stroke-width="1.5" />
<line x1="458.50" y1="584.20" x2="458.50" y2="587.40" stroke="#f26a6a" stroke-width="1.5" />
<line x1="446.50" y1="578.80" x2="446.50" y2="592.80" stroke="#f26a6a" stroke-width="1.5" />
<line x1="444.90" y1="578.80" x2="448.10" y2="578.80" stroke="#f26a6a" stroke-width="1.5" />
<line x1="444.90" y1="592.80" x2="448.10" y2="592.80" stroke="#f26a6a" stroke-width="1.5" />
<line x1="463.70" y1="588.20" x2="487.70" y2="588.20" stroke="#f26a6a" stroke-width="1.5" />
<line x1="463.70" y1="586.60" x2="463.70" y2="589.80" stroke="#f26a6a" stroke-width="1.5" />
<line x1="487.70" y1="586.60" x2="487.70" y2="589.80" stroke="#f26a6a" stroke-width="1.5" />
<line x1="475.70" y1="581.20" x2="475.70" y2="595.20" stroke="#f26a6a" stroke-width="1.5" />
<line x1="474.10" y1="581.20" x2="477.30" y2="581.20" stroke="#f26a6a" stroke-width="1.5" />
<line x1="474.10" y1="595.20" x2="477.30" y2="595.20" stroke="#f26a6a" stroke-width="1.5" />
<line x1="449.50" y1="593.00" x2="467.50" y2="593.00" stroke="#f26a6a" stroke-width="1.5" />
<line x1="449.50" y1="591.40" x2="449.50" y2="594.60" stroke="#f26a6a" stroke-width="1.5" />
<line x1="467.50" y1="591.40" x2="467.50" y2="594.60" stroke="#f26a6a" stroke-width="1.5" />
<line x1="458.50" y1="586.00" x2="458.50" y2="600.00" stroke="#f26a6a" stroke-width="1.5" />
<line x1="456.90" y1="586.00" x2="460.10" y2="586.00" stroke="#f26a6a" stroke-width="1.5" />
<line x1="456.90" y1="600.00" x2="460.10" y2="600.00" stroke="#f26a6a" stroke-width="1.5" />
<line x1="434.50" y1="598.60" x2="455.50" y2="598.60" stroke="#f26a6a" stroke-width="1.5" />
<line x1="434.50" y1="597.00" x2="434.50" y2="600.20" stroke="#f26a6a" stroke-width="1.5" />
<line x1="455.50" y1="597.00" x2="455.50" y2="600.20" stroke="#f26a6a" stroke-width="1.5" />
<line x1="446.50" y1="591.60" x2="446.50" y2="605.60" stroke="#f26a6a" stroke-width="1.5" />
<line x1="444.90" y1="591.60" x2="448.10" y2="591.60" stroke="#f26a6a" stroke-width="1.5" />
<line x1="444.90" y1="605.60" x2="448.10" y2="605.60" stroke="#f26a6a" stroke-width="1.5" />
<line x1="443.90" y1="603.40" x2="461.90" y2="603.40" stroke="#f26a6a" stroke-width="1.5" />
<line x1="443.90" y1="601.80" x2="443.90" y2="605.00" stroke="#f26a6a" stroke-width="1.5" />
<line x1="461.90" y1="601.80" x2="461.90" y2="605.00" stroke="#f26a6a" stroke-width="1.5" />
<line x1="452.90" y1="596.40" x2="452.90" y2="610.40" stroke="#f26a6a" stroke-width="1.5" />
<line x1="451.30" y1="596.40" x2="454.50" y2="596.40" stroke="#f26a6a" stroke-width="1.5" />
<line x1="451.30" y1="610.40" x2="454.50" y2="610.40" stroke="#f26a6a" stroke-width="1.5" />
<line x1="450.30" y1="605.50" x2="468.30" y2="605.50" stroke="#f26a6a" stroke-width="1.5" />
<line x1="450.30" y1="603.90" x2="450.30" y2="607.10" stroke="#f26a6a" stroke-width="1.5" />
<line x1="468.30" y1="603.90" x2="468.30" y2="607.10" stroke="#f26a6a" stroke-width="1.5" />
<line x1="459.30" y1="598.50" x2="459.30" y2="612.50" stroke="#f26a6a" stroke-width="1.5" />
<line x1="457.70" y1="598.50" x2="460.90" y2="598.50" stroke="#f26a6a" stroke-width="1.5" />
<line x1="457.70" y1="612.50" x2="460.90" y2="612.50" stroke="#f26a6a" stroke-width="1.5" />
<line x1="457.60" y1="604.20" x2="478.60" y2="604.20" stroke="#f26a6a" stroke-width="1.5" />
<line x1="457.60" y1="602.60" x2="457.60" y2="605.80" stroke="#f26a6a" stroke-width="1.5" />
<line x1="478.60" y1="602.60" x2="478.60" y2="605.80" stroke="#f26a6a" stroke-width="1.5" />
<line x1="466.60" y1="597.20" x2="466.60" y2="611.20" stroke="#f26a6a" stroke-width="1.5" />
<line x1="465.00" y1="597.20" x2="468.20" y2="597.20" stroke="#f26a6a" stroke-width="1.5" />
<line x1="465.00" y1="611.20" x2="468.20" y2="611.20" stroke="#f26a6a" stroke-width="1.5" />
<polygon points="534.30,573.89 539.00,582.07 529.60,582.07" fill="#ebb63c" stroke="#14207a" stroke-width="1.4" stroke-linejoin="round"/>
<polygon points="554.90,569.79 559.60,577.97 550.20,577.97" fill="#ebb63c" stroke="#14207a" stroke-width="1.4" stroke-linejoin="round"/>
<polygon points="564.80,576.19 569.50,584.37 560.10,584.37" fill="#ebb63c" stroke="#14207a" stroke-width="1.4" stroke-linejoin="round"/>
<polygon points="560.10,586.19 564.80,594.37 555.40,594.37" fill="#ebb63c" stroke="#14207a" stroke-width="1.4" stroke-linejoin="round"/>
<polygon points="563.50,586.59 568.20,594.77 558.80,594.77" fill="#ebb63c" stroke="#14207a" stroke-width="1.4" stroke-linejoin="round"/>
<line x1="549.00" y1="568.90" x2="577.00" y2="568.90" stroke="#2e8a40" stroke-width="1.6" />
<line x1="549.00" y1="567.30" x2="549.00" y2="570.50" stroke="#2e8a40" stroke-width="1.6" />
<line x1="577.00" y1="567.30" x2="577.00" y2="570.50" stroke="#2e8a40" stroke-width="1.6" />
<line x1="563.00" y1="559.90" x2="563.00" y2="577.90" stroke="#2e8a40" stroke-width="1.6" />
<line x1="561.40" y1="559.90" x2="564.60" y2="559.90" stroke="#2e8a40" stroke-width="1.6" />
<line x1="561.40" y1="577.90" x2="564.60" y2="577.90" stroke="#2e8a40" stroke-width="1.6" />
<line x1="520.30" y1="588.20" x2="540.30" y2="588.20" stroke="#2e8a40" stroke-width="1.6" />
<line x1="520.30" y1="586.60" x2="520.30" y2="589.80" stroke="#2e8a40" stroke-width="1.6" />
<line x1="540.30" y1="586.60" x2="540.30" y2="589.80" stroke="#2e8a40" stroke-width="1.6" />
<line x1="530.30" y1="580.20" x2="530.30" y2="596.20" stroke="#2e8a40" stroke-width="1.6" />
<line x1="528.70" y1="580.20" x2="531.90" y2="580.20" stroke="#2e8a40" stroke-width="1.6" />
<line x1="528.70" y1="596.20" x2="531.90" y2="596.20" stroke="#2e8a40" stroke-width="1.6" />
<line x1="527.90" y1="586.80" x2="545.90" y2="586.80" stroke="#2e8a40" stroke-width="1.6" />
<line x1="527.90" y1="585.20" x2="527.90" y2="588.40" stroke="#2e8a40" stroke-width="1.6" />
<line x1="545.90" y1="585.20" x2="545.90" y2="588.40" stroke="#2e8a40" stroke-width="1.6" />
<line x1="536.90" y1="578.80" x2="536.90" y2="594.80" stroke="#2e8a40" stroke-width="1.6" />
<line x1="535.30" y1="578.80" x2="538.50" y2="578.80" stroke="#2e8a40" stroke-width="1.6" />
<line x1="535.30" y1="594.80" x2="538.50" y2="594.80" stroke="#2e8a40" stroke-width="1.6" />
<line x1="534.10" y1="590.40" x2="552.10" y2="590.40" stroke="#2e8a40" stroke-width="1.6" />
<line x1="534.10" y1="588.80" x2="534.10" y2="592.00" stroke="#2e8a40" stroke-width="1.6" />
<line x1="552.10" y1="588.80" x2="552.10" y2="592.00" stroke="#2e8a40" stroke-width="1.6" />
<line x1="543.10" y1="581.40" x2="543.10" y2="599.40" stroke="#2e8a40" stroke-width="1.6" />
<line x1="541.50" y1="581.40" x2="544.70" y2="581.40" stroke="#2e8a40" stroke-width="1.6" />
<line x1="541.50" y1="599.40" x2="544.70" y2="599.40" stroke="#2e8a40" stroke-width="1.6" />
<line x1="540.30" y1="587.50" x2="558.30" y2="587.50" stroke="#2e8a40" stroke-width="1.6" />
<line x1="540.30" y1="585.90" x2="540.30" y2="589.10" stroke="#2e8a40" stroke-width="1.6" />
<line x1="558.30" y1="585.90" x2="558.30" y2="589.10" stroke="#2e8a40" stroke-width="1.6" />
<line x1="549.30" y1="579.50" x2="549.30" y2="595.50" stroke="#2e8a40" stroke-width="1.6" />
<line x1="547.70" y1="579.50" x2="550.90" y2="579.50" stroke="#2e8a40" stroke-width="1.6" />
<line x1="547.70" y1="595.50" x2="550.90" y2="595.50" stroke="#2e8a40" stroke-width="1.6" />
<rect x="558.85" y="564.75" width="8.3" height="8.3" rx="1" fill="#2f8640" stroke="#111" stroke-width="1.4"/>
<rect x="526.15" y="584.05" width="8.3" height="8.3" rx="1" fill="#2f8640" stroke="#111" stroke-width="1.4"/>
<rect x="532.75" y="582.65" width="8.3" height="8.3" rx="1" fill="#2f8640" stroke="#111" stroke-width="1.4"/>
<rect x="538.95" y="586.25" width="8.3" height="8.3" rx="1" fill="#2f8640" stroke="#111" stroke-width="1.4"/>
<rect x="545.15" y="583.35" width="8.3" height="8.3" rx="1" fill="#2f8640" stroke="#111" stroke-width="1.4"/>
<rect x="459.55" y="567.15" width="8.3" height="8.3" rx="1" fill="#ff2a1a" stroke="#111" stroke-width="1.4"/>
<rect x="442.35" y="581.65" width="8.3" height="8.3" rx="1" fill="#ff2a1a" stroke="#111" stroke-width="1.4"/>
<rect x="471.55" y="584.05" width="8.3" height="8.3" rx="1" fill="#ff2a1a" stroke="#111" stroke-width="1.4"/>
<rect x="454.35" y="588.85" width="8.3" height="8.3" rx="1" fill="#ff2a1a" stroke="#111" stroke-width="1.4"/>
<rect x="442.35" y="594.45" width="8.3" height="8.3" rx="1" fill="#ff2a1a" stroke="#111" stroke-width="1.4"/>
<rect x="448.75" y="599.25" width="8.3" height="8.3" rx="1" fill="#ff2a1a" stroke="#111" stroke-width="1.4"/>
<rect x="455.15" y="601.35" width="8.3" height="8.3" rx="1" fill="#ff2a1a" stroke="#111" stroke-width="1.4"/>
<rect x="462.45" y="600.05" width="8.3" height="8.3" rx="1" fill="#ff2a1a" stroke="#111" stroke-width="1.4"/>
<path d="M84.80,702.80 C85.07,700.25 86.67,699.47 88.00,698.80 C89.33,698.13 90.12,697.58 92.80,698.80 C95.48,700.02 99.55,702.75 104.10,706.10 C108.65,709.45 114.75,714.08 120.10,718.90 C125.45,723.72 130.83,729.38 136.20,735.00 C141.57,740.62 147.48,747.25 152.30,752.60 C157.12,757.95 161.08,762.28 165.10,767.10 C169.12,771.92 173.18,776.68 176.40,781.50 C179.62,786.32 182.80,792.52 184.40,796.00 C186.00,799.48 186.27,800.40 186.00,802.40 C185.73,804.40 184.40,807.32 182.80,808.00 C181.20,808.68 180.15,807.97 176.40,806.50 C172.65,805.03 165.12,801.48 160.30,799.20 C155.48,796.92 152.85,796.82 147.50,792.80 C142.15,788.78 134.10,781.00 128.20,775.10 C122.30,769.20 117.45,764.08 112.10,757.40 C106.75,750.72 100.38,742.22 96.10,735.00 C91.82,727.78 88.28,719.47 86.40,714.10 C84.52,708.73 84.53,705.35 84.80,702.80 Z" fill="rgba(70,200,120,0.24)" stroke="#2aa02a" stroke-width="1.4" stroke-linejoin="round"/>
<path d="M142.30,766.10 C142.78,762.70 144.27,760.52 146.70,758.80 C149.13,757.08 152.77,756.17 156.90,755.80 C161.03,755.43 166.63,755.87 171.50,756.60 C176.37,757.33 181.23,758.62 186.10,760.20 C190.97,761.78 195.83,763.18 200.70,766.10 C205.57,769.02 211.17,774.05 215.30,777.70 C219.43,781.35 223.32,784.58 225.50,788.00 C227.68,791.42 228.40,795.05 228.40,798.20 C228.40,801.35 227.43,803.98 225.50,806.90 C223.57,809.82 220.20,813.02 216.80,815.70 C213.40,818.38 209.00,821.18 205.10,823.00 C201.20,824.82 197.05,826.12 193.40,826.60 C189.75,827.08 186.85,826.98 183.20,825.90 C179.55,824.82 175.40,822.77 171.50,820.10 C167.60,817.43 163.45,814.28 159.80,809.90 C156.15,805.52 152.27,798.92 149.60,793.80 C146.93,788.68 145.02,783.82 143.80,779.20 C142.58,774.58 141.82,769.50 142.30,766.10 Z" fill="rgba(0,0,0,0.2)" stroke="#111" stroke-width="1.8" stroke-linejoin="round"/>
<path d="M201,831.5 L303,855.5 L301,861 L296.5,863 L200,837.5 Z" fill="rgba(185,40,50,0.18)" stroke="#a41414" stroke-width="1.5" stroke-linejoin="round"/>
<path d="M262.50,827.00 C264.25,824.92 267.97,821.77 271.00,820.00 C274.03,818.23 277.78,817.02 280.70,816.40 C283.62,815.78 286.45,815.78 288.50,816.30 C290.55,816.82 292.15,817.88 293.00,819.50 C293.85,821.12 293.90,823.83 293.60,826.00 C293.30,828.17 292.30,830.42 291.20,832.50 C290.10,834.58 288.45,836.75 287.00,838.50 C285.55,840.25 284.42,841.87 282.50,843.00 C280.58,844.13 278.00,845.22 275.50,845.30 C273.00,845.38 269.75,844.63 267.50,843.50 C265.25,842.37 263.17,840.33 262.00,838.50 C260.83,836.67 260.42,834.42 260.50,832.50 C260.58,830.58 260.75,829.08 262.50,827.00 Z" fill="rgba(110,60,180,0.25)" stroke="#6d3db0" stroke-width="1.3" stroke-linejoin="round"/>
<ellipse cx="289.5" cy="853.3" rx="16.5" ry="8.5" transform="rotate(12 289.5 853.3)" fill="rgba(70,70,235,0.25)" stroke="#1a1aff" stroke-width="1.6"/>
<line x1="143.20" y1="766.80" x2="165.20" y2="766.80" stroke="#f26a6a" stroke-width="1.5" />
<line x1="143.20" y1="765.20" x2="143.20" y2="768.40" stroke="#f26a6a" stroke-width="1.5" />
<line x1="165.20" y1="765.20" x2="165.20" y2="768.40" stroke="#f26a6a" stroke-width="1.5" />
<line x1="156.20" y1="756.80" x2="156.20" y2="780.80" stroke="#f26a6a" stroke-width="1.5" />
<line x1="154.60" y1="756.80" x2="157.80" y2="756.80" stroke="#f26a6a" stroke-width="1.5" />
<line x1="154.60" y1="780.80" x2="157.80" y2="780.80" stroke="#f26a6a" stroke-width="1.5" />
<line x1="153.70" y1="768.20" x2="174.70" y2="768.20" stroke="#f26a6a" stroke-width="1.5" />
<line x1="153.70" y1="766.60" x2="153.70" y2="769.80" stroke="#f26a6a" stroke-width="1.5" />
<line x1="174.70" y1="766.60" x2="174.70" y2="769.80" stroke="#f26a6a" stroke-width="1.5" />
<line x1="162.70" y1="758.20" x2="162.70" y2="782.20" stroke="#f26a6a" stroke-width="1.5" />
<line x1="161.10" y1="758.20" x2="164.30" y2="758.20" stroke="#f26a6a" stroke-width="1.5" />
<line x1="161.10" y1="782.20" x2="164.30" y2="782.20" stroke="#f26a6a" stroke-width="1.5" />
<line x1="142.60" y1="793.80" x2="165.60" y2="793.80" stroke="#f26a6a" stroke-width="1.5" />
<line x1="142.60" y1="792.20" x2="142.60" y2="795.40" stroke="#f26a6a" stroke-width="1.5" />
<line x1="165.60" y1="792.20" x2="165.60" y2="795.40" stroke="#f26a6a" stroke-width="1.5" />
<line x1="156.60" y1="783.80" x2="156.60" y2="805.80" stroke="#f26a6a" stroke-width="1.5" />
<line x1="155.00" y1="783.80" x2="158.20" y2="783.80" stroke="#f26a6a" stroke-width="1.5" />
<line x1="155.00" y1="805.80" x2="158.20" y2="805.80" stroke="#f26a6a" stroke-width="1.5" />
<line x1="165.10" y1="789.70" x2="186.10" y2="789.70" stroke="#f26a6a" stroke-width="1.5" />
<line x1="165.10" y1="788.10" x2="165.10" y2="791.30" stroke="#f26a6a" stroke-width="1.5" />
<line x1="186.10" y1="788.10" x2="186.10" y2="791.30" stroke="#f26a6a" stroke-width="1.5" />
<line x1="174.10" y1="780.70" x2="174.10" y2="798.70" stroke="#f26a6a" stroke-width="1.5" />
<line x1="172.50" y1="780.70" x2="175.70" y2="780.70" stroke="#f26a6a" stroke-width="1.5" />
<line x1="172.50" y1="798.70" x2="175.70" y2="798.70" stroke="#f26a6a" stroke-width="1.5" />
<line x1="156.70" y1="798.20" x2="174.70" y2="798.20" stroke="#f26a6a" stroke-width="1.5" />
<line x1="156.70" y1="796.60" x2="156.70" y2="799.80" stroke="#f26a6a" stroke-width="1.5" />
<line x1="174.70" y1="796.60" x2="174.70" y2="799.80" stroke="#f26a6a" stroke-width="1.5" />
<line x1="165.70" y1="789.20" x2="165.70" y2="810.20" stroke="#f26a6a" stroke-width="1.5" />
<line x1="164.10" y1="789.20" x2="167.30" y2="789.20" stroke="#f26a6a" stroke-width="1.5" />
<line x1="164.10" y1="810.20" x2="167.30" y2="810.20" stroke="#f26a6a" stroke-width="1.5" />
<line x1="160.30" y1="796.70" x2="178.30" y2="796.70" stroke="#f26a6a" stroke-width="1.5" />
<line x1="160.30" y1="795.10" x2="160.30" y2="798.30" stroke="#f26a6a" stroke-width="1.5" />
<line x1="178.30" y1="795.10" x2="178.30" y2="798.30" stroke="#f26a6a" stroke-width="1.5" />
<line x1="169.30" y1="787.70" x2="169.30" y2="808.70" stroke="#f26a6a" stroke-width="1.5" />
<line x1="167.70" y1="787.70" x2="170.90" y2="787.70" stroke="#f26a6a" stroke-width="1.5" />
<line x1="167.70" y1="808.70" x2="170.90" y2="808.70" stroke="#f26a6a" stroke-width="1.5" />
<line x1="166.90" y1="796.40" x2="188.90" y2="796.40" stroke="#f26a6a" stroke-width="1.5" />
<line x1="166.90" y1="794.80" x2="166.90" y2="798.00" stroke="#f26a6a" stroke-width="1.5" />
<line x1="188.90" y1="794.80" x2="188.90" y2="798.00" stroke="#f26a6a" stroke-width="1.5" />
<line x1="175.90" y1="787.40" x2="175.90" y2="805.40" stroke="#f26a6a" stroke-width="1.5" />
<line x1="174.30" y1="787.40" x2="177.50" y2="787.40" stroke="#f26a6a" stroke-width="1.5" />
<line x1="174.30" y1="805.40" x2="177.50" y2="805.40" stroke="#f26a6a" stroke-width="1.5" />
<line x1="171.40" y1="815.00" x2="199.40" y2="815.00" stroke="#f26a6a" stroke-width="1.5" />
<line x1="171.40" y1="813.40" x2="171.40" y2="816.60" stroke="#f26a6a" stroke-width="1.5" />
<line x1="199.40" y1="813.40" x2="199.40" y2="816.60" stroke="#f26a6a" stroke-width="1.5" />
<line x1="185.40" y1="806.00" x2="185.40" y2="824.00" stroke="#f26a6a" stroke-width="1.5" />
<line x1="183.80" y1="806.00" x2="187.00" y2="806.00" stroke="#f26a6a" stroke-width="1.5" />
<line x1="183.80" y1="824.00" x2="187.00" y2="824.00" stroke="#f26a6a" stroke-width="1.5" />
<polygon points="264.00,833.09 268.70,841.27 259.30,841.27" fill="#ebb63c" stroke="#14207a" stroke-width="1.4" stroke-linejoin="round"/>
<polygon points="267.80,840.59 272.50,848.77 263.10,848.77" fill="#ebb63c" stroke="#14207a" stroke-width="1.4" stroke-linejoin="round"/>
<polygon points="269.70,845.39 274.40,853.57 265.00,853.57" fill="#ebb63c" stroke="#14207a" stroke-width="1.4" stroke-linejoin="round"/>
<polygon points="277.00,851.09 281.70,859.27 272.30,859.27" fill="#ebb63c" stroke="#14207a" stroke-width="1.4" stroke-linejoin="round"/>
<polygon points="279.00,853.09 283.70,861.27 274.30,861.27" fill="#ebb63c" stroke="#14207a" stroke-width="1.4" stroke-linejoin="round"/>
<line x1="242.70" y1="828.50" x2="260.70" y2="828.50" stroke="#2e8a40" stroke-width="1.6" />
<line x1="242.70" y1="826.90" x2="242.70" y2="830.10" stroke="#2e8a40" stroke-width="1.6" />
<line x1="260.70" y1="826.90" x2="260.70" y2="830.10" stroke="#2e8a40" stroke-width="1.6" />
<line x1="251.70" y1="816.50" x2="251.70" y2="837.50" stroke="#2e8a40" stroke-width="1.6" />
<line x1="250.10" y1="816.50" x2="253.30" y2="816.50" stroke="#2e8a40" stroke-width="1.6" />
<line x1="250.10" y1="837.50" x2="253.30" y2="837.50" stroke="#2e8a40" stroke-width="1.6" />
<line x1="231.30" y1="838.00" x2="249.30" y2="838.00" stroke="#2e8a40" stroke-width="1.6" />
<line x1="231.30" y1="836.40" x2="231.30" y2="839.60" stroke="#2e8a40" stroke-width="1.6" />
<line x1="249.30" y1="836.40" x2="249.30" y2="839.60" stroke="#2e8a40" stroke-width="1.6" />
<line x1="240.30" y1="828.00" x2="240.30" y2="848.00" stroke="#2e8a40" stroke-width="1.6" />
<line x1="238.70" y1="828.00" x2="241.90" y2="828.00" stroke="#2e8a40" stroke-width="1.6" />
<line x1="238.70" y1="848.00" x2="241.90" y2="848.00" stroke="#2e8a40" stroke-width="1.6" />
<line x1="233.20" y1="845.20" x2="251.20" y2="845.20" stroke="#2e8a40" stroke-width="1.6" />
<line x1="233.20" y1="843.60" x2="233.20" y2="846.80" stroke="#2e8a40" stroke-width="1.6" />
<line x1="251.20" y1="843.60" x2="251.20" y2="846.80" stroke="#2e8a40" stroke-width="1.6" />
<line x1="242.20" y1="836.20" x2="242.20" y2="857.20" stroke="#2e8a40" stroke-width="1.6" />
<line x1="240.60" y1="836.20" x2="243.80" y2="836.20" stroke="#2e8a40" stroke-width="1.6" />
<line x1="240.60" y1="857.20" x2="243.80" y2="857.20" stroke="#2e8a40" stroke-width="1.6" />
<line x1="248.40" y1="846.10" x2="266.40" y2="846.10" stroke="#2e8a40" stroke-width="1.6" />
<line x1="248.40" y1="844.50" x2="248.40" y2="847.70" stroke="#2e8a40" stroke-width="1.6" />
<line x1="266.40" y1="844.50" x2="266.40" y2="847.70" stroke="#2e8a40" stroke-width="1.6" />
<line x1="257.40" y1="837.10" x2="257.40" y2="858.10" stroke="#2e8a40" stroke-width="1.6" />
<line x1="255.80" y1="837.10" x2="259.00" y2="837.10" stroke="#2e8a40" stroke-width="1.6" />
<line x1="255.80" y1="858.10" x2="259.00" y2="858.10" stroke="#2e8a40" stroke-width="1.6" />
<line x1="260.60" y1="857.90" x2="284.60" y2="857.90" stroke="#2e8a40" stroke-width="1.6" />
<line x1="260.60" y1="856.30" x2="260.60" y2="859.50" stroke="#2e8a40" stroke-width="1.6" />
<line x1="284.60" y1="856.30" x2="284.60" y2="859.50" stroke="#2e8a40" stroke-width="1.6" />
<line x1="272.60" y1="848.90" x2="272.60" y2="871.90" stroke="#2e8a40" stroke-width="1.6" />
<line x1="271.00" y1="848.90" x2="274.20" y2="848.90" stroke="#2e8a40" stroke-width="1.6" />
<line x1="271.00" y1="871.90" x2="274.20" y2="871.90" stroke="#2e8a40" stroke-width="1.6" />
<rect x="247.55" y="824.35" width="8.3" height="8.3" rx="1" fill="#2f8640" stroke="#111" stroke-width="1.4"/>
<rect x="236.15" y="833.85" width="8.3" height="8.3" rx="1" fill="#2f8640" stroke="#111" stroke-width="1.4"/>
<rect x="238.05" y="841.05" width="8.3" height="8.3" rx="1" fill="#2f8640" stroke="#111" stroke-width="1.4"/>
<rect x="253.25" y="841.95" width="8.3" height="8.3" rx="1" fill="#2f8640" stroke="#111" stroke-width="1.4"/>
<rect x="268.45" y="853.75" width="8.3" height="8.3" rx="1" fill="#2f8640" stroke="#111" stroke-width="1.4"/>
<rect x="152.05" y="762.65" width="8.3" height="8.3" rx="1" fill="#ff2a1a" stroke="#111" stroke-width="1.4"/>
<rect x="158.55" y="764.05" width="8.3" height="8.3" rx="1" fill="#ff2a1a" stroke="#111" stroke-width="1.4"/>
<rect x="152.45" y="789.65" width="8.3" height="8.3" rx="1" fill="#ff2a1a" stroke="#111" stroke-width="1.4"/>
<rect x="169.95" y="785.55" width="8.3" height="8.3" rx="1" fill="#ff2a1a" stroke="#111" stroke-width="1.4"/>
<rect x="161.55" y="794.05" width="8.3" height="8.3" rx="1" fill="#ff2a1a" stroke="#111" stroke-width="1.4"/>
<rect x="165.15" y="792.55" width="8.3" height="8.3" rx="1" fill="#ff2a1a" stroke="#111" stroke-width="1.4"/>
<rect x="171.75" y="792.25" width="8.3" height="8.3" rx="1" fill="#ff2a1a" stroke="#111" stroke-width="1.4"/>
<rect x="181.25" y="810.85" width="8.3" height="8.3" rx="1" fill="#ff2a1a" stroke="#111" stroke-width="1.4"/>
<path d="M376.10,704.00 C376.68,701.23 378.60,698.92 380.50,697.90 C382.40,696.88 383.42,696.30 387.50,697.90 C391.58,699.50 399.15,703.70 405.00,707.50 C410.85,711.30 416.75,716.03 422.60,720.70 C428.45,725.37 434.85,730.40 440.10,735.50 C445.35,740.60 449.72,745.75 454.10,751.30 C458.48,756.85 462.90,762.95 466.40,768.80 C469.90,774.65 472.92,780.85 475.10,786.40 C477.28,791.95 478.92,797.73 479.50,802.10 C480.08,806.47 479.92,810.12 478.60,812.60 C477.28,815.08 475.10,816.27 471.60,817.00 C468.10,817.73 462.27,817.43 457.60,817.00 C452.93,816.57 447.68,816.00 443.60,814.40 C439.52,812.80 436.60,810.32 433.10,807.40 C429.60,804.48 426.70,801.87 422.60,796.90 C418.50,791.93 412.88,784.32 408.50,777.60 C404.12,770.88 400.38,764.20 396.30,756.60 C392.22,749.00 387.22,739.02 384.00,732.00 C380.78,724.98 378.32,719.17 377.00,714.50 C375.68,709.83 375.52,706.77 376.10,704.00 Z" fill="rgba(70,200,120,0.24)" stroke="#2aa02a" stroke-width="1.4" stroke-linejoin="round"/>
<path d="M484.5,736.3 C503,736.3 518.3,765 518.3,795 C518.3,830 500,871 482,871 C460,871 429.6,835 429.6,795 C429.6,762 460,736.3 484.5,736.3 Z" fill="rgba(0,0,0,0.2)" stroke="#111" stroke-width="1.8" stroke-linejoin="round"/>
<ellipse cx="541.2" cy="827.5" rx="61" ry="8" transform="rotate(33.9 541.2 827.5)" fill="rgba(185,40,50,0.18)" stroke="#a41414" stroke-width="1.6"/>
<ellipse cx="566" cy="844.5" rx="18" ry="10" transform="rotate(-10 566 844.5)" fill="rgba(110,60,180,0.25)" stroke="#6d3db0" stroke-width="1.3"/>
<ellipse cx="580" cy="857.5" rx="17" ry="9" transform="rotate(15 580 857.5)" fill="rgba(70,70,235,0.25)" stroke="#1a1aff" stroke-width="1.6"/>
<line x1="467.30" y1="759.60" x2="488.30" y2="759.60" stroke="#f26a6a" stroke-width="1.5" />
<line x1="467.30" y1="758.00" x2="467.30" y2="761.20" stroke="#f26a6a" stroke-width="1.5" />
<line x1="488.30" y1="758.00" x2="488.30" y2="761.20" stroke="#f26a6a" stroke-width="1.5" />
<line x1="476.30" y1="753.60" x2="476.30" y2="765.60" stroke="#f26a6a" stroke-width="1.5" />
<line x1="474.70" y1="753.60" x2="477.90" y2="753.60" stroke="#f26a6a" stroke-width="1.5" />
<line x1="474.70" y1="765.60" x2="477.90" y2="765.60" stroke="#f26a6a" stroke-width="1.5" />
<line x1="450.50" y1="764.70" x2="468.50" y2="764.70" stroke="#f26a6a" stroke-width="1.5" />
<line x1="450.50" y1="763.10" x2="450.50" y2="766.30" stroke="#f26a6a" stroke-width="1.5" />
<line x1="468.50" y1="763.10" x2="468.50" y2="766.30" stroke="#f26a6a" stroke-width="1.5" />
<line x1="459.50" y1="758.70" x2="459.50" y2="770.70" stroke="#f26a6a" stroke-width="1.5" />
<line x1="457.90" y1="758.70" x2="461.10" y2="758.70" stroke="#f26a6a" stroke-width="1.5" />
<line x1="457.90" y1="770.70" x2="461.10" y2="770.70" stroke="#f26a6a" stroke-width="1.5" />
<line x1="440.90" y1="776.00" x2="464.90" y2="776.00" stroke="#f26a6a" stroke-width="1.5" />
<line x1="440.90" y1="774.40" x2="440.90" y2="777.60" stroke="#f26a6a" stroke-width="1.5" />
<line x1="464.90" y1="774.40" x2="464.90" y2="777.60" stroke="#f26a6a" stroke-width="1.5" />
<line x1="452.90" y1="770.00" x2="452.90" y2="782.00" stroke="#f26a6a" stroke-width="1.5" />
<line x1="451.30" y1="770.00" x2="454.50" y2="770.00" stroke="#f26a6a" stroke-width="1.5" />
<line x1="451.30" y1="782.00" x2="454.50" y2="782.00" stroke="#f26a6a" stroke-width="1.5" />
<line x1="456.30" y1="787.60" x2="477.30" y2="787.60" stroke="#f26a6a" stroke-width="1.5" />
<line x1="456.30" y1="786.00" x2="456.30" y2="789.20" stroke="#f26a6a" stroke-width="1.5" />
<line x1="477.30" y1="786.00" x2="477.30" y2="789.20" stroke="#f26a6a" stroke-width="1.5" />
<line x1="465.30" y1="781.60" x2="465.30" y2="793.60" stroke="#f26a6a" stroke-width="1.5" />
<line x1="463.70" y1="781.60" x2="466.90" y2="781.60" stroke="#f26a6a" stroke-width="1.5" />
<line x1="463.70" y1="793.60" x2="466.90" y2="793.60" stroke="#f26a6a" stroke-width="1.5" />
<line x1="435.10" y1="793.50" x2="456.10" y2="793.50" stroke="#f26a6a" stroke-width="1.5" />
<line x1="435.10" y1="791.90" x2="435.10" y2="795.10" stroke="#f26a6a" stroke-width="1.5" />
<line x1="456.10" y1="791.90" x2="456.10" y2="795.10" stroke="#f26a6a" stroke-width="1.5" />
<line x1="447.10" y1="787.50" x2="447.10" y2="799.50" stroke="#f26a6a" stroke-width="1.5" />
<line x1="445.50" y1="787.50" x2="448.70" y2="787.50" stroke="#f26a6a" stroke-width="1.5" />
<line x1="445.50" y1="799.50" x2="448.70" y2="799.50" stroke="#f26a6a" stroke-width="1.5" />
<line x1="449.10" y1="797.90" x2="470.10" y2="797.90" stroke="#f26a6a" stroke-width="1.5" />
<line x1="449.10" y1="796.30" x2="449.10" y2="799.50" stroke="#f26a6a" stroke-width="1.5" />
<line x1="470.10" y1="796.30" x2="470.10" y2="799.50" stroke="#f26a6a" stroke-width="1.5" />
<line x1="458.10" y1="791.90" x2="458.10" y2="803.90" stroke="#f26a6a" stroke-width="1.5" />
<line x1="456.50" y1="791.90" x2="459.70" y2="791.90" stroke="#f26a6a" stroke-width="1.5" />
<line x1="456.50" y1="803.90" x2="459.70" y2="803.90" stroke="#f26a6a" stroke-width="1.5" />
<line x1="435.10" y1="813.80" x2="456.10" y2="813.80" stroke="#f26a6a" stroke-width="1.5" />
<line x1="435.10" y1="812.20" x2="435.10" y2="815.40" stroke="#f26a6a" stroke-width="1.5" />
<line x1="456.10" y1="812.20" x2="456.10" y2="815.40" stroke="#f26a6a" stroke-width="1.5" />
<line x1="447.10" y1="807.80" x2="447.10" y2="819.80" stroke="#f26a6a" stroke-width="1.5" />
<line x1="445.50" y1="807.80" x2="448.70" y2="807.80" stroke="#f26a6a" stroke-width="1.5" />
<line x1="445.50" y1="819.80" x2="448.70" y2="819.80" stroke="#f26a6a" stroke-width="1.5" />
<line x1="454.40" y1="818.00" x2="475.40" y2="818.00" stroke="#f26a6a" stroke-width="1.5" />
<line x1="454.40" y1="816.40" x2="454.40" y2="819.60" stroke="#f26a6a" stroke-width="1.5" />
<line x1="475.40" y1="816.40" x2="475.40" y2="819.60" stroke="#f26a6a" stroke-width="1.5" />
<line x1="463.40" y1="812.00" x2="463.40" y2="824.00" stroke="#f26a6a" stroke-width="1.5" />
<line x1="461.80" y1="812.00" x2="465.00" y2="812.00" stroke="#f26a6a" stroke-width="1.5" />
<line x1="461.80" y1="824.00" x2="465.00" y2="824.00" stroke="#f26a6a" stroke-width="1.5" />
<polygon points="534.10,853.89 538.80,862.07 529.40,862.07" fill="#ebb63c" stroke="#14207a" stroke-width="1.4" stroke-linejoin="round"/>
<polygon points="555.00,856.69 559.70,864.87 550.30,864.87" fill="#ebb63c" stroke="#14207a" stroke-width="1.4" stroke-linejoin="round"/>
<polygon points="551.00,855.09 555.70,863.27 546.30,863.27" fill="#ebb63c" stroke="#14207a" stroke-width="1.4" stroke-linejoin="round"/>
<polygon points="563.50,858.59 568.20,866.77 558.80,866.77" fill="#ebb63c" stroke="#14207a" stroke-width="1.4" stroke-linejoin="round"/>
<polygon points="568.00,857.09 572.70,865.27 563.30,865.27" fill="#ebb63c" stroke="#14207a" stroke-width="1.4" stroke-linejoin="round"/>
<line x1="519.20" y1="840.70" x2="540.20" y2="840.70" stroke="#2e8a40" stroke-width="1.6" />
<line x1="519.20" y1="839.10" x2="519.20" y2="842.30" stroke="#2e8a40" stroke-width="1.6" />
<line x1="540.20" y1="839.10" x2="540.20" y2="842.30" stroke="#2e8a40" stroke-width="1.6" />
<line x1="531.20" y1="832.70" x2="531.20" y2="848.70" stroke="#2e8a40" stroke-width="1.6" />
<line x1="529.60" y1="832.70" x2="532.80" y2="832.70" stroke="#2e8a40" stroke-width="1.6" />
<line x1="529.60" y1="848.70" x2="532.80" y2="848.70" stroke="#2e8a40" stroke-width="1.6" />
<line x1="533.60" y1="838.80" x2="554.60" y2="838.80" stroke="#2e8a40" stroke-width="1.6" />
<line x1="533.60" y1="837.20" x2="533.60" y2="840.40" stroke="#2e8a40" stroke-width="1.6" />
<line x1="554.60" y1="837.20" x2="554.60" y2="840.40" stroke="#2e8a40" stroke-width="1.6" />
<line x1="542.60" y1="830.80" x2="542.60" y2="846.80" stroke="#2e8a40" stroke-width="1.6" />
<line x1="541.00" y1="830.80" x2="544.20" y2="830.80" stroke="#2e8a40" stroke-width="1.6" />
<line x1="541.00" y1="846.80" x2="544.20" y2="846.80" stroke="#2e8a40" stroke-width="1.6" />
<line x1="531.70" y1="845.50" x2="549.70" y2="845.50" stroke="#2e8a40" stroke-width="1.6" />
<line x1="531.70" y1="843.90" x2="531.70" y2="847.10" stroke="#2e8a40" stroke-width="1.6" />
<line x1="549.70" y1="843.90" x2="549.70" y2="847.10" stroke="#2e8a40" stroke-width="1.6" />
<line x1="540.70" y1="837.50" x2="540.70" y2="853.50" stroke="#2e8a40" stroke-width="1.6" />
<line x1="539.10" y1="837.50" x2="542.30" y2="837.50" stroke="#2e8a40" stroke-width="1.6" />
<line x1="539.10" y1="853.50" x2="542.30" y2="853.50" stroke="#2e8a40" stroke-width="1.6" />
<line x1="539.70" y1="854.40" x2="557.70" y2="854.40" stroke="#2e8a40" stroke-width="1.6" />
<line x1="539.70" y1="852.80" x2="539.70" y2="856.00" stroke="#2e8a40" stroke-width="1.6" />
<line x1="557.70" y1="852.80" x2="557.70" y2="856.00" stroke="#2e8a40" stroke-width="1.6" />
<line x1="548.70" y1="846.40" x2="548.70" y2="862.40" stroke="#2e8a40" stroke-width="1.6" />
<line x1="547.10" y1="846.40" x2="550.30" y2="846.40" stroke="#2e8a40" stroke-width="1.6" />
<line x1="547.10" y1="862.40" x2="550.30" y2="862.40" stroke="#2e8a40" stroke-width="1.6" />
<line x1="553.60" y1="853.10" x2="574.60" y2="853.10" stroke="#2e8a40" stroke-width="1.6" />
<line x1="553.60" y1="851.50" x2="553.60" y2="854.70" stroke="#2e8a40" stroke-width="1.6" />
<line x1="574.60" y1="851.50" x2="574.60" y2="854.70" stroke="#2e8a40" stroke-width="1.6" />
<line x1="562.60" y1="845.10" x2="562.60" y2="861.10" stroke="#2e8a40" stroke-width="1.6" />
<line x1="561.00" y1="845.10" x2="564.20" y2="845.10" stroke="#2e8a40" stroke-width="1.6" />
<line x1="561.00" y1="861.10" x2="564.20" y2="861.10" stroke="#2e8a40" stroke-width="1.6" />
<rect x="527.05" y="836.55" width="8.3" height="8.3" rx="1" fill="#2f8640" stroke="#111" stroke-width="1.4"/>
<rect x="538.45" y="834.65" width="8.3" height="8.3" rx="1" fill="#2f8640" stroke="#111" stroke-width="1.4"/>
<rect x="536.55" y="841.35" width="8.3" height="8.3" rx="1" fill="#2f8640" stroke="#111" stroke-width="1.4"/>
<rect x="544.55" y="850.25" width="8.3" height="8.3" rx="1" fill="#2f8640" stroke="#111" stroke-width="1.4"/>
<rect x="558.45" y="848.95" width="8.3" height="8.3" rx="1" fill="#2f8640" stroke="#111" stroke-width="1.4"/>
<rect x="472.15" y="755.45" width="8.3" height="8.3" rx="1" fill="#ff2a1a" stroke="#111" stroke-width="1.4"/>
<rect x="455.35" y="760.55" width="8.3" height="8.3" rx="1" fill="#ff2a1a" stroke="#111" stroke-width="1.4"/>
<rect x="448.75" y="771.85" width="8.3" height="8.3" rx="1" fill="#ff2a1a" stroke="#111" stroke-width="1.4"/>
<rect x="461.15" y="783.45" width="8.3" height="8.3" rx="1" fill="#ff2a1a" stroke="#111" stroke-width="1.4"/>
<rect x="442.95" y="789.35" width="8.3" height="8.3" rx="1" fill="#ff2a1a" stroke="#111" stroke-width="1.4"/>
<rect x="453.95" y="793.75" width="8.3" height="8.3" rx="1" fill="#ff2a1a" stroke="#111" stroke-width="1.4"/>
<rect x="442.95" y="809.65" width="8.3" height="8.3" rx="1" fill="#ff2a1a" stroke="#111" stroke-width="1.4"/>
<rect x="459.25" y="813.85" width="8.3" height="8.3" rx="1" fill="#ff2a1a" stroke="#111" stroke-width="1.4"/>
<path d="M87,986.5 C84,978 92,962 104,957.5 C120,955 145,955.5 165,957 C178,959 186,967 185,977 C184,988 178,995 170,996 C160,997 150,993.5 138,994.5 C120,996 100,995 92,991.5 C89,990 88,988.5 87,986.5 Z" fill="rgba(70,200,120,0.24)" stroke="#2aa02a" stroke-width="1.4" stroke-linejoin="round"/>
<path d="M138.40,946.00 C138.65,942.72 140.57,943.03 142.50,942.30 C144.43,941.57 147.08,941.35 150.00,941.60 C152.92,941.85 156.67,942.70 160.00,943.80 C163.33,944.90 166.67,946.45 170.00,948.20 C173.33,949.95 176.58,952.13 180.00,954.30 C183.42,956.47 186.85,958.88 190.50,961.20 C194.15,963.52 197.82,965.50 201.90,968.20 C205.98,970.90 211.35,974.85 215.00,977.40 C218.65,979.95 221.68,981.60 223.80,983.50 C225.92,985.40 226.97,987.30 227.70,988.80 C228.43,990.30 228.45,991.18 228.20,992.50 C227.95,993.82 228.40,995.28 226.20,996.70 C224.00,998.12 219.05,999.98 215.00,1001.00 C210.95,1002.02 206.27,1002.65 201.90,1002.80 C197.53,1002.95 193.12,1002.53 188.80,1001.90 C184.48,1001.27 180.47,1000.82 176.00,999.00 C171.53,997.18 166.50,994.42 162.00,991.00 C157.50,987.58 152.50,983.33 149.00,978.50 C145.50,973.67 142.77,967.42 141.00,962.00 C139.23,956.58 138.15,949.28 138.40,946.00 Z" fill="rgba(0,0,0,0.2)" stroke="#111" stroke-width="1.8" stroke-linejoin="round"/>
<path d="M199.3,969.5 L235,978.2 L278,995.7 L304,1008.5 L299.2,1025 L276,1014.4 L235,993.4 L200.3,976.5 Z" fill="rgba(185,40,50,0.18)" stroke="#a41414" stroke-width="1.5" stroke-linejoin="round"/>
<path d="M259.30,1011.00 C259.13,1013.83 260.22,1017.67 261.00,1021.00 C261.78,1024.33 262.83,1027.67 264.00,1031.00 C265.17,1034.33 266.50,1037.67 268.00,1041.00 C269.50,1044.33 271.17,1047.33 273.00,1051.00 C274.83,1054.67 277.17,1059.33 279.00,1063.00 C280.83,1066.67 282.42,1070.37 284.00,1073.00 C285.58,1075.63 287.00,1078.13 288.50,1078.80 C290.00,1079.47 291.80,1078.80 293.00,1077.00 C294.20,1075.20 295.30,1071.67 295.70,1068.00 C296.10,1064.33 295.85,1059.33 295.40,1055.00 C294.95,1050.67 294.07,1046.17 293.00,1042.00 C291.93,1037.83 290.67,1034.00 289.00,1030.00 C287.33,1026.00 285.17,1021.67 283.00,1018.00 C280.83,1014.33 278.50,1010.50 276.00,1008.00 C273.50,1005.50 270.33,1003.67 268.00,1003.00 C265.67,1002.33 263.45,1002.67 262.00,1004.00 C260.55,1005.33 259.47,1008.17 259.30,1011.00 Z" fill="rgba(110,60,180,0.25)" stroke="#6d3db0" stroke-width="1.3" stroke-linejoin="round"/>
<ellipse cx="285.3" cy="1007.5" rx="30.5" ry="11.5" transform="rotate(49 285.3 1007.5)" fill="rgba(70,70,235,0.25)" stroke="#1a1aff" stroke-width="1.6"/>
<line x1="147.60" y1="938.20" x2="165.60" y2="938.20" stroke="#f26a6a" stroke-width="1.5" />
<line x1="147.60" y1="936.60" x2="147.60" y2="939.80" stroke="#f26a6a" stroke-width="1.5" />
<line x1="165.60" y1="936.60" x2="165.60" y2="939.80" stroke="#f26a6a" stroke-width="1.5" />
<line x1="156.60" y1="920.20" x2="156.60" y2="947.20" stroke="#f26a6a" stroke-width="1.5" />
<line x1="155.00" y1="920.20" x2="158.20" y2="920.20" stroke="#f26a6a" stroke-width="1.5" />
<line x1="155.00" y1="947.20" x2="158.20" y2="947.20" stroke="#f26a6a" stroke-width="1.5" />
<line x1="158.60" y1="953.40" x2="176.60" y2="953.40" stroke="#f26a6a" stroke-width="1.5" />
<line x1="158.60" y1="951.80" x2="158.60" y2="955.00" stroke="#f26a6a" stroke-width="1.5" />
<line x1="176.60" y1="951.80" x2="176.60" y2="955.00" stroke="#f26a6a" stroke-width="1.5" />
<line x1="167.60" y1="944.40" x2="167.60" y2="962.40" stroke="#f26a6a" stroke-width="1.5" />
<line x1="166.00" y1="944.40" x2="169.20" y2="944.40" stroke="#f26a6a" stroke-width="1.5" />
<line x1="166.00" y1="962.40" x2="169.20" y2="962.40" stroke="#f26a6a" stroke-width="1.5" />
<line x1="161.60" y1="963.20" x2="179.60" y2="963.20" stroke="#f26a6a" stroke-width="1.5" />
<line x1="161.60" y1="961.60" x2="161.60" y2="964.80" stroke="#f26a6a" stroke-width="1.5" />
<line x1="179.60" y1="961.60" x2="179.60" y2="964.80" stroke="#f26a6a" stroke-width="1.5" />
<line x1="170.60" y1="954.20" x2="170.60" y2="972.20" stroke="#f26a6a" stroke-width="1.5" />
<line x1="169.00" y1="954.20" x2="172.20" y2="954.20" stroke="#f26a6a" stroke-width="1.5" />
<line x1="169.00" y1="972.20" x2="172.20" y2="972.20" stroke="#f26a6a" stroke-width="1.5" />
<line x1="176.10" y1="962.00" x2="194.10" y2="962.00" stroke="#f26a6a" stroke-width="1.5" />
<line x1="176.10" y1="960.40" x2="176.10" y2="963.60" stroke="#f26a6a" stroke-width="1.5" />
<line x1="194.10" y1="960.40" x2="194.10" y2="963.60" stroke="#f26a6a" stroke-width="1.5" />
<line x1="185.10" y1="949.00" x2="185.10" y2="971.00" stroke="#f26a6a" stroke-width="1.5" />
<line x1="183.50" y1="949.00" x2="186.70" y2="949.00" stroke="#f26a6a" stroke-width="1.5" />
<line x1="183.50" y1="971.00" x2="186.70" y2="971.00" stroke="#f26a6a" stroke-width="1.5" />
<line x1="149.80" y1="969.10" x2="173.80" y2="969.10" stroke="#f26a6a" stroke-width="1.5" />
<line x1="149.80" y1="967.50" x2="149.80" y2="970.70" stroke="#f26a6a" stroke-width="1.5" />
<line x1="173.80" y1="967.50" x2="173.80" y2="970.70" stroke="#f26a6a" stroke-width="1.5" />
<line x1="161.80" y1="960.10" x2="161.80" y2="978.10" stroke="#f26a6a" stroke-width="1.5" />
<line x1="160.20" y1="960.10" x2="163.40" y2="960.10" stroke="#f26a6a" stroke-width="1.5" />
<line x1="160.20" y1="978.10" x2="163.40" y2="978.10" stroke="#f26a6a" stroke-width="1.5" />
<line x1="166.80" y1="967.90" x2="184.80" y2="967.90" stroke="#f26a6a" stroke-width="1.5" />
<line x1="166.80" y1="966.30" x2="166.80" y2="969.50" stroke="#f26a6a" stroke-width="1.5" />
<line x1="184.80" y1="966.30" x2="184.80" y2="969.50" stroke="#f26a6a" stroke-width="1.5" />
<line x1="175.80" y1="958.90" x2="175.80" y2="976.90" stroke="#f26a6a" stroke-width="1.5" />
<line x1="174.20" y1="958.90" x2="177.40" y2="958.90" stroke="#f26a6a" stroke-width="1.5" />
<line x1="174.20" y1="976.90" x2="177.40" y2="976.90" stroke="#f26a6a" stroke-width="1.5" />
<line x1="165.10" y1="976.10" x2="186.10" y2="976.10" stroke="#f26a6a" stroke-width="1.5" />
<line x1="165.10" y1="974.50" x2="165.10" y2="977.70" stroke="#f26a6a" stroke-width="1.5" />
<line x1="186.10" y1="974.50" x2="186.10" y2="977.70" stroke="#f26a6a" stroke-width="1.5" />
<line x1="174.10" y1="967.10" x2="174.10" y2="985.10" stroke="#f26a6a" stroke-width="1.5" />
<line x1="172.50" y1="967.10" x2="175.70" y2="967.10" stroke="#f26a6a" stroke-width="1.5" />
<line x1="172.50" y1="985.10" x2="175.70" y2="985.10" stroke="#f26a6a" stroke-width="1.5" />
<line x1="144.60" y1="983.10" x2="168.60" y2="983.10" stroke="#f26a6a" stroke-width="1.5" />
<line x1="144.60" y1="981.50" x2="144.60" y2="984.70" stroke="#f26a6a" stroke-width="1.5" />
<line x1="168.60" y1="981.50" x2="168.60" y2="984.70" stroke="#f26a6a" stroke-width="1.5" />
<line x1="156.60" y1="974.10" x2="156.60" y2="996.10" stroke="#f26a6a" stroke-width="1.5" />
<line x1="155.00" y1="974.10" x2="158.20" y2="974.10" stroke="#f26a6a" stroke-width="1.5" />
<line x1="155.00" y1="996.10" x2="158.20" y2="996.10" stroke="#f26a6a" stroke-width="1.5" />
<polygon points="244.30,976.39 249.00,984.57 239.60,984.57" fill="#ebb63c" stroke="#14207a" stroke-width="1.4" stroke-linejoin="round"/>
<polygon points="260.50,999.19 265.20,1007.37 255.80,1007.37" fill="#ebb63c" stroke="#14207a" stroke-width="1.4" stroke-linejoin="round"/>
<polygon points="268.00,996.29 272.70,1004.47 263.30,1004.47" fill="#ebb63c" stroke="#14207a" stroke-width="1.4" stroke-linejoin="round"/>
<polygon points="264.30,1004.89 269.00,1013.07 259.60,1013.07" fill="#ebb63c" stroke="#14207a" stroke-width="1.4" stroke-linejoin="round"/>
<polygon points="277.60,1001.09 282.30,1009.27 272.90,1009.27" fill="#ebb63c" stroke="#14207a" stroke-width="1.4" stroke-linejoin="round"/>
<polygon points="271.90,1016.29 276.60,1024.47 267.20,1024.47" fill="#ebb63c" stroke="#14207a" stroke-width="1.4" stroke-linejoin="round"/>
<line x1="231.50" y1="988.00" x2="249.50" y2="988.00" stroke="#2e8a40" stroke-width="1.6" />
<line x1="231.50" y1="986.40" x2="231.50" y2="989.60" stroke="#2e8a40" stroke-width="1.6" />
<line x1="249.50" y1="986.40" x2="249.50" y2="989.60" stroke="#2e8a40" stroke-width="1.6" />
<line x1="240.50" y1="971.00" x2="240.50" y2="1005.00" stroke="#2e8a40" stroke-width="1.6" />
<line x1="238.90" y1="971.00" x2="242.10" y2="971.00" stroke="#2e8a40" stroke-width="1.6" />
<line x1="238.90" y1="1005.00" x2="242.10" y2="1005.00" stroke="#2e8a40" stroke-width="1.6" />
<line x1="243.00" y1="992.70" x2="261.00" y2="992.70" stroke="#2e8a40" stroke-width="1.6" />
<line x1="243.00" y1="991.10" x2="243.00" y2="994.30" stroke="#2e8a40" stroke-width="1.6" />
<line x1="261.00" y1="991.10" x2="261.00" y2="994.30" stroke="#2e8a40" stroke-width="1.6" />
<line x1="252.00" y1="974.70" x2="252.00" y2="1007.70" stroke="#2e8a40" stroke-width="1.6" />
<line x1="250.40" y1="974.70" x2="253.60" y2="974.70" stroke="#2e8a40" stroke-width="1.6" />
<line x1="250.40" y1="1007.70" x2="253.60" y2="1007.70" stroke="#2e8a40" stroke-width="1.6" />
<line x1="248.60" y1="988.90" x2="266.60" y2="988.90" stroke="#2e8a40" stroke-width="1.6" />
<line x1="248.60" y1="987.30" x2="248.60" y2="990.50" stroke="#2e8a40" stroke-width="1.6" />
<line x1="266.60" y1="987.30" x2="266.60" y2="990.50" stroke="#2e8a40" stroke-width="1.6" />
<line x1="257.60" y1="974.90" x2="257.60" y2="1002.90" stroke="#2e8a40" stroke-width="1.6" />
<line x1="256.00" y1="974.90" x2="259.20" y2="974.90" stroke="#2e8a40" stroke-width="1.6" />
<line x1="256.00" y1="1002.90" x2="259.20" y2="1002.90" stroke="#2e8a40" stroke-width="1.6" />
<line x1="241.00" y1="1001.20" x2="259.00" y2="1001.20" stroke="#2e8a40" stroke-width="1.6" />
<line x1="241.00" y1="999.60" x2="241.00" y2="1002.80" stroke="#2e8a40" stroke-width="1.6" />
<line x1="259.00" y1="999.60" x2="259.00" y2="1002.80" stroke="#2e8a40" stroke-width="1.6" />
<line x1="250.00" y1="987.20" x2="250.00" y2="1015.20" stroke="#2e8a40" stroke-width="1.6" />
<line x1="248.40" y1="987.20" x2="251.60" y2="987.20" stroke="#2e8a40" stroke-width="1.6" />
<line x1="248.40" y1="1015.20" x2="251.60" y2="1015.20" stroke="#2e8a40" stroke-width="1.6" />
<line x1="260.80" y1="993.30" x2="284.80" y2="993.30" stroke="#2e8a40" stroke-width="1.6" />
<line x1="260.80" y1="991.70" x2="260.80" y2="994.90" stroke="#2e8a40" stroke-width="1.6" />
<line x1="284.80" y1="991.70" x2="284.80" y2="994.90" stroke="#2e8a40" stroke-width="1.6" />
<line x1="272.80" y1="975.30" x2="272.80" y2="1005.30" stroke="#2e8a40" stroke-width="1.6" />
<line x1="271.20" y1="975.30" x2="274.40" y2="975.30" stroke="#2e8a40" stroke-width="1.6" />
<line x1="271.20" y1="1005.30" x2="274.40" y2="1005.30" stroke="#2e8a40" stroke-width="1.6" />
<rect x="236.35" y="983.85" width="8.3" height="8.3" rx="1" fill="#2f8640" stroke="#111" stroke-width="1.4"/>
<rect x="247.85" y="988.55" width="8.3" height="8.3" rx="1" fill="#2f8640" stroke="#111" stroke-width="1.4"/>
<rect x="253.45" y="984.75" width="8.3" height="8.3" rx="1" fill="#2f8640" stroke="#111" stroke-width="1.4"/>
<rect x="245.85" y="997.05" width="8.3" height="8.3" rx="1" fill="#2f8640" stroke="#111" stroke-width="1.4"/>
<rect x="268.65" y="989.15" width="8.3" height="8.3" rx="1" fill="#2f8640" stroke="#111" stroke-width="1.4"/>
<rect x="152.45" y="934.05" width="8.3" height="8.3" rx="1" fill="#ff2a1a" stroke="#111" stroke-width="1.4"/>
<rect x="163.45" y="949.25" width="8.3" height="8.3" rx="1" fill="#ff2a1a" stroke="#111" stroke-width="1.4"/>
<rect x="166.45" y="959.05" width="8.3" height="8.3" rx="1" fill="#ff2a1a" stroke="#111" stroke-width="1.4"/>
<rect x="180.95" y="957.85" width="8.3" height="8.3" rx="1" fill="#ff2a1a" stroke="#111" stroke-width="1.4"/>
<rect x="157.65" y="964.95" width="8.3" height="8.3" rx="1" fill="#ff2a1a" stroke="#111" stroke-width="1.4"/>
<rect x="171.65" y="963.75" width="8.3" height="8.3" rx="1" fill="#ff2a1a" stroke="#111" stroke-width="1.4"/>
<rect x="169.95" y="971.95" width="8.3" height="8.3" rx="1" fill="#ff2a1a" stroke="#111" stroke-width="1.4"/>
<rect x="152.45" y="978.95" width="8.3" height="8.3" rx="1" fill="#ff2a1a" stroke="#111" stroke-width="1.4"/>
<path d="M377.00,905.50 C377.88,904.18 379.08,902.47 382.30,902.90 C385.52,903.33 391.05,905.03 396.30,908.10 C401.55,911.17 407.97,916.48 413.80,921.30 C419.63,926.12 425.47,931.17 431.30,937.00 C437.13,942.83 442.95,949.58 448.80,956.30 C454.65,963.02 461.72,971.17 466.40,977.30 C471.08,983.43 474.72,989.30 476.90,993.10 C479.08,996.90 479.80,998.20 479.50,1000.10 C479.20,1002.00 478.17,1004.50 475.10,1004.50 C472.03,1004.50 466.07,1001.70 461.10,1000.10 C456.13,998.50 450.27,997.53 445.30,994.90 C440.33,992.27 436.55,989.27 431.30,984.30 C426.05,979.33 419.63,972.10 413.80,965.10 C407.97,958.10 401.55,949.60 396.30,942.30 C391.05,935.00 385.52,926.55 382.30,921.30 C379.08,916.05 377.88,913.43 377.00,910.80 C376.12,908.17 376.12,906.82 377.00,905.50 Z" fill="rgba(70,200,120,0.24)" stroke="#2aa02a" stroke-width="1.4" stroke-linejoin="round"/>
<path d="M432.60,951.10 C433.37,947.52 435.28,946.88 437.70,945.90 C440.12,944.92 442.82,944.15 447.10,945.20 C451.38,946.25 457.57,949.08 463.40,952.20 C469.23,955.32 475.87,959.22 482.10,963.90 C488.33,968.58 495.35,975.05 500.80,980.30 C506.25,985.55 511.48,990.53 514.80,995.40 C518.12,1000.27 520.30,1005.80 520.70,1009.50 C521.10,1013.20 520.13,1015.67 517.20,1017.60 C514.27,1019.53 508.17,1020.70 503.10,1021.10 C498.03,1021.50 492.63,1021.35 486.80,1020.00 C480.97,1018.65 473.93,1016.50 468.10,1013.00 C462.27,1009.50 456.47,1003.87 451.80,999.00 C447.13,994.13 443.22,989.07 440.10,983.80 C436.98,978.53 434.35,972.85 433.10,967.40 C431.85,961.95 431.83,954.68 432.60,951.10 Z" fill="rgba(0,0,0,0.2)" stroke="#111" stroke-width="1.8" stroke-linejoin="round"/>
<path d="M490.5,968 L494.5,966.5 L592,1048 L590.5,1054.5 L573,1054 Z" fill="rgba(185,40,50,0.18)" stroke="#a41414" stroke-width="1.5" stroke-linejoin="round"/>
<ellipse cx="566.5" cy="1037" rx="26.5" ry="11.5" transform="rotate(49 566.5 1037)" fill="rgba(110,60,180,0.25)" stroke="#6d3db0" stroke-width="1.3"/>
<ellipse cx="576" cy="1043" rx="19" ry="24" transform="rotate(-15 576 1043)" fill="rgba(70,70,235,0.25)" stroke="#1a1aff" stroke-width="1.6"/>
<line x1="435.60" y1="950.60" x2="457.60" y2="950.60" stroke="#f26a6a" stroke-width="1.5" />
<line x1="435.60" y1="949.00" x2="435.60" y2="952.20" stroke="#f26a6a" stroke-width="1.5" />
<line x1="457.60" y1="949.00" x2="457.60" y2="952.20" stroke="#f26a6a" stroke-width="1.5" />
<line x1="448.50" y1="956.20" x2="470.50" y2="956.20" stroke="#f26a6a" stroke-width="1.5" />
<line x1="448.50" y1="954.60" x2="448.50" y2="957.80" stroke="#f26a6a" stroke-width="1.5" />
<line x1="470.50" y1="954.60" x2="470.50" y2="957.80" stroke="#f26a6a" stroke-width="1.5" />
<line x1="441.90" y1="969.30" x2="463.90" y2="969.30" stroke="#f26a6a" stroke-width="1.5" />
<line x1="441.90" y1="967.70" x2="441.90" y2="970.90" stroke="#f26a6a" stroke-width="1.5" />
<line x1="463.90" y1="967.70" x2="463.90" y2="970.90" stroke="#f26a6a" stroke-width="1.5" />
<line x1="447.30" y1="977.90" x2="469.30" y2="977.90" stroke="#f26a6a" stroke-width="1.5" />
<line x1="447.30" y1="976.30" x2="447.30" y2="979.50" stroke="#f26a6a" stroke-width="1.5" />
<line x1="469.30" y1="976.30" x2="469.30" y2="979.50" stroke="#f26a6a" stroke-width="1.5" />
<line x1="464.60" y1="976.80" x2="486.60" y2="976.80" stroke="#f26a6a" stroke-width="1.5" />
<line x1="464.60" y1="975.20" x2="464.60" y2="978.40" stroke="#f26a6a" stroke-width="1.5" />
<line x1="486.60" y1="975.20" x2="486.60" y2="978.40" stroke="#f26a6a" stroke-width="1.5" />
<line x1="454.30" y1="990.80" x2="476.30" y2="990.80" stroke="#f26a6a" stroke-width="1.5" />
<line x1="454.30" y1="989.20" x2="454.30" y2="992.40" stroke="#f26a6a" stroke-width="1.5" />
<line x1="476.30" y1="989.20" x2="476.30" y2="992.40" stroke="#f26a6a" stroke-width="1.5" />
<line x1="435.10" y1="1001.30" x2="459.10" y2="1001.30" stroke="#f26a6a" stroke-width="1.5" />
<line x1="435.10" y1="999.70" x2="435.10" y2="1002.90" stroke="#f26a6a" stroke-width="1.5" />
<line x1="459.10" y1="999.70" x2="459.10" y2="1002.90" stroke="#f26a6a" stroke-width="1.5" />
<line x1="451.40" y1="1002.00" x2="475.40" y2="1002.00" stroke="#f26a6a" stroke-width="1.5" />
<line x1="451.40" y1="1000.40" x2="451.40" y2="1003.60" stroke="#f26a6a" stroke-width="1.5" />
<line x1="475.40" y1="1000.40" x2="475.40" y2="1003.60" stroke="#f26a6a" stroke-width="1.5" />
<polygon points="533.10,1046.89 537.80,1055.07 528.40,1055.07" fill="#ebb63c" stroke="#14207a" stroke-width="1.4" stroke-linejoin="round"/>
<polygon points="555.00,1039.29 559.70,1047.47 550.30,1047.47" fill="#ebb63c" stroke="#14207a" stroke-width="1.4" stroke-linejoin="round"/>
<polygon points="561.60,1043.09 566.30,1051.27 556.90,1051.27" fill="#ebb63c" stroke="#14207a" stroke-width="1.4" stroke-linejoin="round"/>
<polygon points="564.50,1066.79 569.20,1074.97 559.80,1074.97" fill="#ebb63c" stroke="#14207a" stroke-width="1.4" stroke-linejoin="round"/>
<line x1="516.30" y1="1030.90" x2="544.30" y2="1030.90" stroke="#2e8a40" stroke-width="1.6" />
<line x1="516.30" y1="1029.30" x2="516.30" y2="1032.50" stroke="#2e8a40" stroke-width="1.6" />
<line x1="544.30" y1="1029.30" x2="544.30" y2="1032.50" stroke="#2e8a40" stroke-width="1.6" />
<line x1="517.20" y1="1046.70" x2="543.20" y2="1046.70" stroke="#2e8a40" stroke-width="1.6" />
<line x1="517.20" y1="1045.10" x2="517.20" y2="1048.30" stroke="#2e8a40" stroke-width="1.6" />
<line x1="543.20" y1="1045.10" x2="543.20" y2="1048.30" stroke="#2e8a40" stroke-width="1.6" />
<line x1="534.60" y1="1044.20" x2="552.60" y2="1044.20" stroke="#2e8a40" stroke-width="1.6" />
<line x1="534.60" y1="1042.60" x2="534.60" y2="1045.80" stroke="#2e8a40" stroke-width="1.6" />
<line x1="552.60" y1="1042.60" x2="552.60" y2="1045.80" stroke="#2e8a40" stroke-width="1.6" />
<line x1="531.70" y1="1056.50" x2="549.70" y2="1056.50" stroke="#2e8a40" stroke-width="1.6" />
<line x1="531.70" y1="1054.90" x2="531.70" y2="1058.10" stroke="#2e8a40" stroke-width="1.6" />
<line x1="549.70" y1="1054.90" x2="549.70" y2="1058.10" stroke="#2e8a40" stroke-width="1.6" />
<line x1="540.30" y1="1061.70" x2="558.30" y2="1061.70" stroke="#2e8a40" stroke-width="1.6" />
<line x1="540.30" y1="1060.10" x2="540.30" y2="1063.30" stroke="#2e8a40" stroke-width="1.6" />
<line x1="558.30" y1="1060.10" x2="558.30" y2="1063.30" stroke="#2e8a40" stroke-width="1.6" />
<line x1="551.50" y1="1064.70" x2="575.50" y2="1064.70" stroke="#2e8a40" stroke-width="1.6" />
<line x1="551.50" y1="1063.10" x2="551.50" y2="1066.30" stroke="#2e8a40" stroke-width="1.6" />
<line x1="575.50" y1="1063.10" x2="575.50" y2="1066.30" stroke="#2e8a40" stroke-width="1.6" />
<rect x="526.15" y="1026.75" width="8.3" height="8.3" rx="1" fill="#2f8640" stroke="#111" stroke-width="1.4"/>
<rect x="527.05" y="1042.55" width="8.3" height="8.3" rx="1" fill="#2f8640" stroke="#111" stroke-width="1.4"/>
<rect x="539.45" y="1040.05" width="8.3" height="8.3" rx="1" fill="#2f8640" stroke="#111" stroke-width="1.4"/>
<rect x="536.55" y="1052.35" width="8.3" height="8.3" rx="1" fill="#2f8640" stroke="#111" stroke-width="1.4"/>
<rect x="545.15" y="1057.55" width="8.3" height="8.3" rx="1" fill="#2f8640" stroke="#111" stroke-width="1.4"/>
<rect x="559.35" y="1060.55" width="8.3" height="8.3" rx="1" fill="#2f8640" stroke="#111" stroke-width="1.4"/>
<rect x="442.45" y="946.45" width="8.3" height="8.3" rx="1" fill="#ff2a1a" stroke="#111" stroke-width="1.4"/>
<rect x="455.35" y="952.05" width="8.3" height="8.3" rx="1" fill="#ff2a1a" stroke="#111" stroke-width="1.4"/>
<rect x="448.75" y="965.15" width="8.3" height="8.3" rx="1" fill="#ff2a1a" stroke="#111" stroke-width="1.4"/>
<rect x="454.15" y="973.75" width="8.3" height="8.3" rx="1" fill="#ff2a1a" stroke="#111" stroke-width="1.4"/>
<rect x="471.45" y="972.65" width="8.3" height="8.3" rx="1" fill="#ff2a1a" stroke="#111" stroke-width="1.4"/>
<rect x="461.15" y="986.65" width="8.3" height="8.3" rx="1" fill="#ff2a1a" stroke="#111" stroke-width="1.4"/>
<rect x="442.95" y="997.15" width="8.3" height="8.3" rx="1" fill="#ff2a1a" stroke="#111" stroke-width="1.4"/>
<rect x="459.25" y="997.85" width="8.3" height="8.3" rx="1" fill="#ff2a1a" stroke="#111" stroke-width="1.4"/>
<line x1="78.20" y1="660.30" x2="330.40" y2="660.30" stroke="#1a1a1a" stroke-width="1.6" />
<line x1="78.90" y1="660.30" x2="78.90" y2="665.80" stroke="#1a1a1a" stroke-width="1.6" />
<line x1="88.93" y1="660.30" x2="88.93" y2="665.80" stroke="#1a1a1a" stroke-width="1.6" />
<line x1="98.96" y1="660.30" x2="98.96" y2="665.80" stroke="#1a1a1a" stroke-width="1.6" />
<line x1="109.00" y1="660.30" x2="109.00" y2="670.80" stroke="#1a1a1a" stroke-width="1.6" />
<line x1="119.03" y1="660.30" x2="119.03" y2="665.80" stroke="#1a1a1a" stroke-width="1.6" />
<line x1="129.06" y1="660.30" x2="129.06" y2="665.80" stroke="#1a1a1a" stroke-width="1.6" />
<line x1="139.09" y1="660.30" x2="139.09" y2="665.80" stroke="#1a1a1a" stroke-width="1.6" />
<line x1="149.12" y1="660.30" x2="149.12" y2="665.80" stroke="#1a1a1a" stroke-width="1.6" />
<line x1="159.16" y1="660.30" x2="159.16" y2="665.80" stroke="#1a1a1a" stroke-width="1.6" />
<line x1="169.19" y1="660.30" x2="169.19" y2="665.80" stroke="#1a1a1a" stroke-width="1.6" />
<line x1="179.22" y1="660.30" x2="179.22" y2="665.80" stroke="#1a1a1a" stroke-width="1.6" />
<line x1="189.25" y1="660.30" x2="189.25" y2="665.80" stroke="#1a1a1a" stroke-width="1.6" />
<line x1="199.28" y1="660.30" x2="199.28" y2="665.80" stroke="#1a1a1a" stroke-width="1.6" />
<line x1="209.32" y1="660.30" x2="209.32" y2="670.80" stroke="#1a1a1a" stroke-width="1.6" />
<line x1="219.35" y1="660.30" x2="219.35" y2="665.80" stroke="#1a1a1a" stroke-width="1.6" />
<line x1="229.38" y1="660.30" x2="229.38" y2="665.80" stroke="#1a1a1a" stroke-width="1.6" />
<line x1="239.41" y1="660.30" x2="239.41" y2="665.80" stroke="#1a1a1a" stroke-width="1.6" />
<line x1="249.44" y1="660.30" x2="249.44" y2="665.80" stroke="#1a1a1a" stroke-width="1.6" />
<line x1="259.48" y1="660.30" x2="259.48" y2="665.80" stroke="#1a1a1a" stroke-width="1.6" />
<line x1="269.51" y1="660.30" x2="269.51" y2="665.80" stroke="#1a1a1a" stroke-width="1.6" />
<line x1="279.54" y1="660.30" x2="279.54" y2="665.80" stroke="#1a1a1a" stroke-width="1.6" />
<line x1="289.57" y1="660.30" x2="289.57" y2="665.80" stroke="#1a1a1a" stroke-width="1.6" />
<line x1="299.60" y1="660.30" x2="299.60" y2="665.80" stroke="#1a1a1a" stroke-width="1.6" />
<line x1="309.64" y1="660.30" x2="309.64" y2="670.80" stroke="#1a1a1a" stroke-width="1.6" />
<line x1="319.67" y1="660.30" x2="319.67" y2="665.80" stroke="#1a1a1a" stroke-width="1.6" />
<line x1="329.70" y1="660.30" x2="329.70" y2="665.80" stroke="#1a1a1a" stroke-width="1.6" />
<line x1="368.05" y1="660.30" x2="620.80" y2="660.30" stroke="#1a1a1a" stroke-width="1.6" />
<line x1="368.75" y1="660.30" x2="368.75" y2="665.80" stroke="#1a1a1a" stroke-width="1.6" />
<line x1="378.80" y1="660.30" x2="378.80" y2="665.80" stroke="#1a1a1a" stroke-width="1.6" />
<line x1="388.86" y1="660.30" x2="388.86" y2="665.80" stroke="#1a1a1a" stroke-width="1.6" />
<line x1="398.91" y1="660.30" x2="398.91" y2="670.80" stroke="#1a1a1a" stroke-width="1.6" />
<line x1="408.97" y1="660.30" x2="408.97" y2="665.80" stroke="#1a1a1a" stroke-width="1.6" />
<line x1="419.02" y1="660.30" x2="419.02" y2="665.80" stroke="#1a1a1a" stroke-width="1.6" />
<line x1="429.07" y1="660.30" x2="429.07" y2="665.80" stroke="#1a1a1a" stroke-width="1.6" />
<line x1="439.13" y1="660.30" x2="439.13" y2="665.80" stroke="#1a1a1a" stroke-width="1.6" />
<line x1="449.18" y1="660.30" x2="449.18" y2="665.80" stroke="#1a1a1a" stroke-width="1.6" />
<line x1="459.24" y1="660.30" x2="459.24" y2="665.80" stroke="#1a1a1a" stroke-width="1.6" />
<line x1="469.29" y1="660.30" x2="469.29" y2="665.80" stroke="#1a1a1a" stroke-width="1.6" />
<line x1="479.34" y1="660.30" x2="479.34" y2="665.80" stroke="#1a1a1a" stroke-width="1.6" />
<line x1="489.40" y1="660.30" x2="489.40" y2="665.80" stroke="#1a1a1a" stroke-width="1.6" />
<line x1="499.45" y1="660.30" x2="499.45" y2="670.80" stroke="#1a1a1a" stroke-width="1.6" />
<line x1="509.51" y1="660.30" x2="509.51" y2="665.80" stroke="#1a1a1a" stroke-width="1.6" />
<line x1="519.56" y1="660.30" x2="519.56" y2="665.80" stroke="#1a1a1a" stroke-width="1.6" />
<line x1="529.61" y1="660.30" x2="529.61" y2="665.80" stroke="#1a1a1a" stroke-width="1.6" />
<line x1="539.67" y1="660.30" x2="539.67" y2="665.80" stroke="#1a1a1a" stroke-width="1.6" />
<line x1="549.72" y1="660.30" x2="549.72" y2="665.80" stroke="#1a1a1a" stroke-width="1.6" />
<line x1="559.78" y1="660.30" x2="559.78" y2="665.80" stroke="#1a1a1a" stroke-width="1.6" />
<line x1="569.83" y1="660.30" x2="569.83" y2="665.80" stroke="#1a1a1a" stroke-width="1.6" />
<line x1="579.88" y1="660.30" x2="579.88" y2="665.80" stroke="#1a1a1a" stroke-width="1.6" />
<line x1="589.94" y1="660.30" x2="589.94" y2="665.80" stroke="#1a1a1a" stroke-width="1.6" />
<line x1="599.99" y1="660.30" x2="599.99" y2="670.80" stroke="#1a1a1a" stroke-width="1.6" />
<line x1="610.05" y1="660.30" x2="610.05" y2="665.80" stroke="#1a1a1a" stroke-width="1.6" />
<line x1="620.10" y1="660.30" x2="620.10" y2="665.80" stroke="#1a1a1a" stroke-width="1.6" />
<line x1="78.20" y1="871.20" x2="330.40" y2="871.20" stroke="#1a1a1a" stroke-width="1.6" />
<line x1="78.90" y1="871.20" x2="78.90" y2="876.70" stroke="#1a1a1a" stroke-width="1.6" />
<line x1="88.93" y1="871.20" x2="88.93" y2="876.70" stroke="#1a1a1a" stroke-width="1.6" />
<line x1="98.96" y1="871.20" x2="98.96" y2="876.70" stroke="#1a1a1a" stroke-width="1.6" />
<line x1="109.00" y1="871.20" x2="109.00" y2="881.70" stroke="#1a1a1a" stroke-width="1.6" />
<line x1="119.03" y1="871.20" x2="119.03" y2="876.70" stroke="#1a1a1a" stroke-width="1.6" />
<line x1="129.06" y1="871.20" x2="129.06" y2="876.70" stroke="#1a1a1a" stroke-width="1.6" />
<line x1="139.09" y1="871.20" x2="139.09" y2="876.70" stroke="#1a1a1a" stroke-width="1.6" />
<line x1="149.12" y1="871.20" x2="149.12" y2="876.70" stroke="#1a1a1a" stroke-width="1.6" />
<line x1="159.16" y1="871.20" x2="159.16" y2="876.70" stroke="#1a1a1a" stroke-width="1.6" />
<line x1="169.19" y1="871.20" x2="169.19" y2="876.70" stroke="#1a1a1a" stroke-width="1.6" />
<line x1="179.22" y1="871.20" x2="179.22" y2="876.70" stroke="#1a1a1a" stroke-width="1.6" />
<line x1="189.25" y1="871.20" x2="189.25" y2="876.70" stroke="#1a1a1a" stroke-width="1.6" />
<line x1="199.28" y1="871.20" x2="199.28" y2="876.70" stroke="#1a1a1a" stroke-width="1.6" />
<line x1="209.32" y1="871.20" x2="209.32" y2="881.70" stroke="#1a1a1a" stroke-width="1.6" />
<line x1="219.35" y1="871.20" x2="219.35" y2="876.70" stroke="#1a1a1a" stroke-width="1.6" />
<line x1="229.38" y1="871.20" x2="229.38" y2="876.70" stroke="#1a1a1a" stroke-width="1.6" />
<line x1="239.41" y1="871.20" x2="239.41" y2="876.70" stroke="#1a1a1a" stroke-width="1.6" />
<line x1="249.44" y1="871.20" x2="249.44" y2="876.70" stroke="#1a1a1a" stroke-width="1.6" />
<line x1="259.48" y1="871.20" x2="259.48" y2="876.70" stroke="#1a1a1a" stroke-width="1.6" />
<line x1="269.51" y1="871.20" x2="269.51" y2="876.70" stroke="#1a1a1a" stroke-width="1.6" />
<line x1="279.54" y1="871.20" x2="279.54" y2="876.70" stroke="#1a1a1a" stroke-width="1.6" />
<line x1="289.57" y1="871.20" x2="289.57" y2="876.70" stroke="#1a1a1a" stroke-width="1.6" />
<line x1="299.60" y1="871.20" x2="299.60" y2="876.70" stroke="#1a1a1a" stroke-width="1.6" />
<line x1="309.64" y1="871.20" x2="309.64" y2="881.70" stroke="#1a1a1a" stroke-width="1.6" />
<line x1="319.67" y1="871.20" x2="319.67" y2="876.70" stroke="#1a1a1a" stroke-width="1.6" />
<line x1="329.70" y1="871.20" x2="329.70" y2="876.70" stroke="#1a1a1a" stroke-width="1.6" />
<line x1="368.05" y1="871.20" x2="620.80" y2="871.20" stroke="#1a1a1a" stroke-width="1.6" />
<line x1="368.75" y1="871.20" x2="368.75" y2="876.70" stroke="#1a1a1a" stroke-width="1.6" />
<line x1="378.80" y1="871.20" x2="378.80" y2="876.70" stroke="#1a1a1a" stroke-width="1.6" />
<line x1="388.86" y1="871.20" x2="388.86" y2="876.70" stroke="#1a1a1a" stroke-width="1.6" />
<line x1="398.91" y1="871.20" x2="398.91" y2="881.70" stroke="#1a1a1a" stroke-width="1.6" />
<line x1="408.97" y1="871.20" x2="408.97" y2="876.70" stroke="#1a1a1a" stroke-width="1.6" />
<line x1="419.02" y1="871.20" x2="419.02" y2="876.70" stroke="#1a1a1a" stroke-width="1.6" />
<line x1="429.07" y1="871.20" x2="429.07" y2="876.70" stroke="#1a1a1a" stroke-width="1.6" />
<line x1="439.13" y1="871.20" x2="439.13" y2="876.70" stroke="#1a1a1a" stroke-width="1.6" />
<line x1="449.18" y1="871.20" x2="449.18" y2="876.70" stroke="#1a1a1a" stroke-width="1.6" />
<line x1="459.24" y1="871.20" x2="459.24" y2="876.70" stroke="#1a1a1a" stroke-width="1.6" />
<line x1="469.29" y1="871.20" x2="469.29" y2="876.70" stroke="#1a1a1a" stroke-width="1.6" />
<line x1="479.34" y1="871.20" x2="479.34" y2="876.70" stroke="#1a1a1a" stroke-width="1.6" />
<line x1="489.40" y1="871.20" x2="489.40" y2="876.70" stroke="#1a1a1a" stroke-width="1.6" />
<line x1="499.45" y1="871.20" x2="499.45" y2="881.70" stroke="#1a1a1a" stroke-width="1.6" />
<line x1="509.51" y1="871.20" x2="509.51" y2="876.70" stroke="#1a1a1a" stroke-width="1.6" />
<line x1="519.56" y1="871.20" x2="519.56" y2="876.70" stroke="#1a1a1a" stroke-width="1.6" />
<line x1="529.61" y1="871.20" x2="529.61" y2="876.70" stroke="#1a1a1a" stroke-width="1.6" />
<line x1="539.67" y1="871.20" x2="539.67" y2="876.70" stroke="#1a1a1a" stroke-width="1.6" />
<line x1="549.72" y1="871.20" x2="549.72" y2="876.70" stroke="#1a1a1a" stroke-width="1.6" />
<line x1="559.78" y1="871.20" x2="559.78" y2="876.70" stroke="#1a1a1a" stroke-width="1.6" />
<line x1="569.83" y1="871.20" x2="569.83" y2="876.70" stroke="#1a1a1a" stroke-width="1.6" />
<line x1="579.88" y1="871.20" x2="579.88" y2="876.70" stroke="#1a1a1a" stroke-width="1.6" />
<line x1="589.94" y1="871.20" x2="589.94" y2="876.70" stroke="#1a1a1a" stroke-width="1.6" />
<line x1="599.99" y1="871.20" x2="599.99" y2="881.70" stroke="#1a1a1a" stroke-width="1.6" />
<line x1="610.05" y1="871.20" x2="610.05" y2="876.70" stroke="#1a1a1a" stroke-width="1.6" />
<line x1="620.10" y1="871.20" x2="620.10" y2="876.70" stroke="#1a1a1a" stroke-width="1.6" />
<line x1="78.20" y1="1083.00" x2="330.40" y2="1083.00" stroke="#1a1a1a" stroke-width="1.6" />
<line x1="78.90" y1="1083.00" x2="78.90" y2="1088.50" stroke="#1a1a1a" stroke-width="1.6" />
<line x1="88.93" y1="1083.00" x2="88.93" y2="1088.50" stroke="#1a1a1a" stroke-width="1.6" />
<line x1="98.96" y1="1083.00" x2="98.96" y2="1088.50" stroke="#1a1a1a" stroke-width="1.6" />
<line x1="109.00" y1="1083.00" x2="109.00" y2="1093.50" stroke="#1a1a1a" stroke-width="1.6" />
<text x="109.00" y="1118.00" font-size="26" text-anchor="middle" font-weight="normal" fill="#000" >60</text>
<line x1="119.03" y1="1083.00" x2="119.03" y2="1088.50" stroke="#1a1a1a" stroke-width="1.6" />
<line x1="129.06" y1="1083.00" x2="129.06" y2="1088.50" stroke="#1a1a1a" stroke-width="1.6" />
<line x1="139.09" y1="1083.00" x2="139.09" y2="1088.50" stroke="#1a1a1a" stroke-width="1.6" />
<line x1="149.12" y1="1083.00" x2="149.12" y2="1088.50" stroke="#1a1a1a" stroke-width="1.6" />
<line x1="159.16" y1="1083.00" x2="159.16" y2="1088.50" stroke="#1a1a1a" stroke-width="1.6" />
<line x1="169.19" y1="1083.00" x2="169.19" y2="1088.50" stroke="#1a1a1a" stroke-width="1.6" />
<line x1="179.22" y1="1083.00" x2="179.22" y2="1088.50" stroke="#1a1a1a" stroke-width="1.6" />
<line x1="189.25" y1="1083.00" x2="189.25" y2="1088.50" stroke="#1a1a1a" stroke-width="1.6" />
<line x1="199.28" y1="1083.00" x2="199.28" y2="1088.50" stroke="#1a1a1a" stroke-width="1.6" />
<line x1="209.32" y1="1083.00" x2="209.32" y2="1093.50" stroke="#1a1a1a" stroke-width="1.6" />
<text x="209.32" y="1118.00" font-size="26" text-anchor="middle" font-weight="normal" fill="#000" >70</text>
<line x1="219.35" y1="1083.00" x2="219.35" y2="1088.50" stroke="#1a1a1a" stroke-width="1.6" />
<line x1="229.38" y1="1083.00" x2="229.38" y2="1088.50" stroke="#1a1a1a" stroke-width="1.6" />
<line x1="239.41" y1="1083.00" x2="239.41" y2="1088.50" stroke="#1a1a1a" stroke-width="1.6" />
<line x1="249.44" y1="1083.00" x2="249.44" y2="1088.50" stroke="#1a1a1a" stroke-width="1.6" />
<line x1="259.48" y1="1083.00" x2="259.48" y2="1088.50" stroke="#1a1a1a" stroke-width="1.6" />
<line x1="269.51" y1="1083.00" x2="269.51" y2="1088.50" stroke="#1a1a1a" stroke-width="1.6" />
<line x1="279.54" y1="1083.00" x2="279.54" y2="1088.50" stroke="#1a1a1a" stroke-width="1.6" />
<line x1="289.57" y1="1083.00" x2="289.57" y2="1088.50" stroke="#1a1a1a" stroke-width="1.6" />
<line x1="299.60" y1="1083.00" x2="299.60" y2="1088.50" stroke="#1a1a1a" stroke-width="1.6" />
<line x1="309.64" y1="1083.00" x2="309.64" y2="1093.50" stroke="#1a1a1a" stroke-width="1.6" />
<text x="309.64" y="1118.00" font-size="26" text-anchor="middle" font-weight="normal" fill="#000" >80</text>
<line x1="319.67" y1="1083.00" x2="319.67" y2="1088.50" stroke="#1a1a1a" stroke-width="1.6" />
<line x1="329.70" y1="1083.00" x2="329.70" y2="1088.50" stroke="#1a1a1a" stroke-width="1.6" />
<line x1="368.05" y1="1083.00" x2="620.80" y2="1083.00" stroke="#1a1a1a" stroke-width="1.6" />
<line x1="368.75" y1="1083.00" x2="368.75" y2="1088.50" stroke="#1a1a1a" stroke-width="1.6" />
<line x1="378.80" y1="1083.00" x2="378.80" y2="1088.50" stroke="#1a1a1a" stroke-width="1.6" />
<line x1="388.86" y1="1083.00" x2="388.86" y2="1088.50" stroke="#1a1a1a" stroke-width="1.6" />
<line x1="398.91" y1="1083.00" x2="398.91" y2="1093.50" stroke="#1a1a1a" stroke-width="1.6" />
<text x="398.91" y="1118.00" font-size="26" text-anchor="middle" font-weight="normal" fill="#000" >60</text>
<line x1="408.97" y1="1083.00" x2="408.97" y2="1088.50" stroke="#1a1a1a" stroke-width="1.6" />
<line x1="419.02" y1="1083.00" x2="419.02" y2="1088.50" stroke="#1a1a1a" stroke-width="1.6" />
<line x1="429.07" y1="1083.00" x2="429.07" y2="1088.50" stroke="#1a1a1a" stroke-width="1.6" />
<line x1="439.13" y1="1083.00" x2="439.13" y2="1088.50" stroke="#1a1a1a" stroke-width="1.6" />
<line x1="449.18" y1="1083.00" x2="449.18" y2="1088.50" stroke="#1a1a1a" stroke-width="1.6" />
<line x1="459.24" y1="1083.00" x2="459.24" y2="1088.50" stroke="#1a1a1a" stroke-width="1.6" />
<line x1="469.29" y1="1083.00" x2="469.29" y2="1088.50" stroke="#1a1a1a" stroke-width="1.6" />
<line x1="479.34" y1="1083.00" x2="479.34" y2="1088.50" stroke="#1a1a1a" stroke-width="1.6" />
<line x1="489.40" y1="1083.00" x2="489.40" y2="1088.50" stroke="#1a1a1a" stroke-width="1.6" />
<line x1="499.45" y1="1083.00" x2="499.45" y2="1093.50" stroke="#1a1a1a" stroke-width="1.6" />
<text x="499.45" y="1118.00" font-size="26" text-anchor="middle" font-weight="normal" fill="#000" >70</text>
<line x1="509.51" y1="1083.00" x2="509.51" y2="1088.50" stroke="#1a1a1a" stroke-width="1.6" />
<line x1="519.56" y1="1083.00" x2="519.56" y2="1088.50" stroke="#1a1a1a" stroke-width="1.6" />
<line x1="529.61" y1="1083.00" x2="529.61" y2="1088.50" stroke="#1a1a1a" stroke-width="1.6" />
<line x1="539.67" y1="1083.00" x2="539.67" y2="1088.50" stroke="#1a1a1a" stroke-width="1.6" />
<line x1="549.72" y1="1083.00" x2="549.72" y2="1088.50" stroke="#1a1a1a" stroke-width="1.6" />
<line x1="559.78" y1="1083.00" x2="559.78" y2="1088.50" stroke="#1a1a1a" stroke-width="1.6" />
<line x1="569.83" y1="1083.00" x2="569.83" y2="1088.50" stroke="#1a1a1a" stroke-width="1.6" />
<line x1="579.88" y1="1083.00" x2="579.88" y2="1088.50" stroke="#1a1a1a" stroke-width="1.6" />
<line x1="589.94" y1="1083.00" x2="589.94" y2="1088.50" stroke="#1a1a1a" stroke-width="1.6" />
<line x1="599.99" y1="1083.00" x2="599.99" y2="1093.50" stroke="#1a1a1a" stroke-width="1.6" />
<text x="599.99" y="1118.00" font-size="26" text-anchor="middle" font-weight="normal" fill="#000" >80</text>
<line x1="610.05" y1="1083.00" x2="610.05" y2="1088.50" stroke="#1a1a1a" stroke-width="1.6" />
<line x1="620.10" y1="1083.00" x2="620.10" y2="1088.50" stroke="#1a1a1a" stroke-width="1.6" />
<line x1="78.90" y1="475.50" x2="78.90" y2="661.00" stroke="#1a1a1a" stroke-width="1.6" />
<line x1="73.90" y1="660.30" x2="78.90" y2="660.30" stroke="#1a1a1a" stroke-width="1.6" />
<line x1="68.40" y1="634.00" x2="78.90" y2="634.00" stroke="#1a1a1a" stroke-width="1.6" />
<text x="64.30" y="641.40" font-size="26" text-anchor="end" font-weight="normal" fill="#000" >2</text>
<line x1="73.90" y1="607.70" x2="78.90" y2="607.70" stroke="#1a1a1a" stroke-width="1.6" />
<line x1="68.40" y1="581.40" x2="78.90" y2="581.40" stroke="#1a1a1a" stroke-width="1.6" />
<text x="64.30" y="588.80" font-size="26" text-anchor="end" font-weight="normal" fill="#000" >4</text>
<line x1="73.90" y1="555.10" x2="78.90" y2="555.10" stroke="#1a1a1a" stroke-width="1.6" />
<line x1="68.40" y1="528.80" x2="78.90" y2="528.80" stroke="#1a1a1a" stroke-width="1.6" />
<text x="64.30" y="536.20" font-size="26" text-anchor="end" font-weight="normal" fill="#000" >6</text>
<line x1="73.90" y1="502.50" x2="78.90" y2="502.50" stroke="#1a1a1a" stroke-width="1.6" />
<line x1="68.40" y1="476.20" x2="78.90" y2="476.20" stroke="#1a1a1a" stroke-width="1.6" />
<text x="64.30" y="483.60" font-size="26" text-anchor="end" font-weight="normal" fill="#000" >8</text>
<line x1="620.10" y1="475.50" x2="620.10" y2="661.00" stroke="#1a1a1a" stroke-width="1.6" />
<line x1="620.10" y1="660.30" x2="630.60" y2="660.30" stroke="#1a1a1a" stroke-width="1.6" />
<text x="632.60" y="667.90" font-size="26" text-anchor="start" font-weight="normal" fill="#000" >0</text>
<line x1="620.10" y1="634.00" x2="625.10" y2="634.00" stroke="#1a1a1a" stroke-width="1.6" />
<line x1="620.10" y1="607.70" x2="630.60" y2="607.70" stroke="#1a1a1a" stroke-width="1.6" />
<text x="632.60" y="615.30" font-size="26" text-anchor="start" font-weight="normal" fill="#000" >2</text>
<line x1="620.10" y1="581.40" x2="625.10" y2="581.40" stroke="#1a1a1a" stroke-width="1.6" />
<line x1="620.10" y1="555.10" x2="630.60" y2="555.10" stroke="#1a1a1a" stroke-width="1.6" />
<text x="632.60" y="562.70" font-size="26" text-anchor="start" font-weight="normal" fill="#000" >4</text>
<line x1="620.10" y1="528.80" x2="625.10" y2="528.80" stroke="#1a1a1a" stroke-width="1.6" />
<line x1="620.10" y1="502.50" x2="630.60" y2="502.50" stroke="#1a1a1a" stroke-width="1.6" />
<text x="632.60" y="510.10" font-size="26" text-anchor="start" font-weight="normal" fill="#000" >6</text>
<line x1="620.10" y1="476.20" x2="625.10" y2="476.20" stroke="#1a1a1a" stroke-width="1.6" />
<line x1="78.90" y1="686.40" x2="78.90" y2="871.90" stroke="#1a1a1a" stroke-width="1.6" />
<line x1="68.40" y1="871.20" x2="78.90" y2="871.20" stroke="#1a1a1a" stroke-width="1.6" />
<text x="64.30" y="878.60" font-size="26" text-anchor="end" font-weight="normal" fill="#000" >0</text>
<line x1="73.90" y1="855.86" x2="78.90" y2="855.86" stroke="#1a1a1a" stroke-width="1.6" />
<line x1="73.90" y1="840.52" x2="78.90" y2="840.52" stroke="#1a1a1a" stroke-width="1.6" />
<line x1="73.90" y1="825.18" x2="78.90" y2="825.18" stroke="#1a1a1a" stroke-width="1.6" />
<line x1="68.40" y1="809.83" x2="78.90" y2="809.83" stroke="#1a1a1a" stroke-width="1.6" />
<text x="64.30" y="817.23" font-size="26" text-anchor="end" font-weight="normal" fill="#000" >4</text>
<line x1="73.90" y1="794.49" x2="78.90" y2="794.49" stroke="#1a1a1a" stroke-width="1.6" />
<line x1="73.90" y1="779.15" x2="78.90" y2="779.15" stroke="#1a1a1a" stroke-width="1.6" />
<line x1="73.90" y1="763.81" x2="78.90" y2="763.81" stroke="#1a1a1a" stroke-width="1.6" />
<line x1="68.40" y1="748.47" x2="78.90" y2="748.47" stroke="#1a1a1a" stroke-width="1.6" />
<text x="64.30" y="755.87" font-size="26" text-anchor="end" font-weight="normal" fill="#000" >8</text>
<line x1="73.90" y1="733.12" x2="78.90" y2="733.12" stroke="#1a1a1a" stroke-width="1.6" />
<line x1="73.90" y1="717.78" x2="78.90" y2="717.78" stroke="#1a1a1a" stroke-width="1.6" />
<line x1="73.90" y1="702.44" x2="78.90" y2="702.44" stroke="#1a1a1a" stroke-width="1.6" />
<line x1="68.40" y1="687.10" x2="78.90" y2="687.10" stroke="#1a1a1a" stroke-width="1.6" />
<text x="64.30" y="694.50" font-size="26" text-anchor="end" font-weight="normal" fill="#000" >12</text>
<line x1="620.10" y1="686.40" x2="620.10" y2="871.90" stroke="#1a1a1a" stroke-width="1.6" />
<line x1="620.10" y1="871.20" x2="630.60" y2="871.20" stroke="#1a1a1a" stroke-width="1.6" />
<text x="632.60" y="878.80" font-size="26" text-anchor="start" font-weight="normal" fill="#000" >0</text>
<line x1="620.10" y1="844.90" x2="625.10" y2="844.90" stroke="#1a1a1a" stroke-width="1.6" />
<line x1="620.10" y1="818.60" x2="630.60" y2="818.60" stroke="#1a1a1a" stroke-width="1.6" />
<text x="632.60" y="826.20" font-size="26" text-anchor="start" font-weight="normal" fill="#000" >1</text>
<line x1="620.10" y1="792.30" x2="625.10" y2="792.30" stroke="#1a1a1a" stroke-width="1.6" />
<line x1="620.10" y1="766.00" x2="630.60" y2="766.00" stroke="#1a1a1a" stroke-width="1.6" />
<text x="632.60" y="773.60" font-size="26" text-anchor="start" font-weight="normal" fill="#000" >2</text>
<line x1="620.10" y1="739.70" x2="625.10" y2="739.70" stroke="#1a1a1a" stroke-width="1.6" />
<line x1="620.10" y1="713.40" x2="630.60" y2="713.40" stroke="#1a1a1a" stroke-width="1.6" />
<text x="632.60" y="721.00" font-size="26" text-anchor="start" font-weight="normal" fill="#000" >3</text>
<line x1="620.10" y1="687.10" x2="625.10" y2="687.10" stroke="#1a1a1a" stroke-width="1.6" />
<line x1="78.90" y1="897.30" x2="78.90" y2="1083.70" stroke="#1a1a1a" stroke-width="1.6" />
<line x1="73.90" y1="1083.00" x2="78.90" y2="1083.00" stroke="#1a1a1a" stroke-width="1.6" />
<line x1="68.40" y1="1064.50" x2="78.90" y2="1064.50" stroke="#1a1a1a" stroke-width="1.6" />
<text x="64.30" y="1071.90" font-size="26" text-anchor="end" font-weight="normal" fill="#000" >10</text>
<line x1="73.90" y1="1046.00" x2="78.90" y2="1046.00" stroke="#1a1a1a" stroke-width="1.6" />
<line x1="73.90" y1="1027.50" x2="78.90" y2="1027.50" stroke="#1a1a1a" stroke-width="1.6" />
<line x1="73.90" y1="1009.00" x2="78.90" y2="1009.00" stroke="#1a1a1a" stroke-width="1.6" />
<line x1="68.40" y1="990.50" x2="78.90" y2="990.50" stroke="#1a1a1a" stroke-width="1.6" />
<text x="64.30" y="997.90" font-size="26" text-anchor="end" font-weight="normal" fill="#000" >14</text>
<line x1="73.90" y1="972.00" x2="78.90" y2="972.00" stroke="#1a1a1a" stroke-width="1.6" />
<line x1="73.90" y1="953.50" x2="78.90" y2="953.50" stroke="#1a1a1a" stroke-width="1.6" />
<line x1="73.90" y1="935.00" x2="78.90" y2="935.00" stroke="#1a1a1a" stroke-width="1.6" />
<line x1="68.40" y1="916.50" x2="78.90" y2="916.50" stroke="#1a1a1a" stroke-width="1.6" />
<text x="64.30" y="923.90" font-size="26" text-anchor="end" font-weight="normal" fill="#000" >18</text>
<line x1="73.90" y1="898.00" x2="78.90" y2="898.00" stroke="#1a1a1a" stroke-width="1.6" />
<line x1="620.10" y1="897.30" x2="620.10" y2="1083.70" stroke="#1a1a1a" stroke-width="1.6" />
<line x1="620.10" y1="1083.00" x2="630.60" y2="1083.00" stroke="#1a1a1a" stroke-width="1.6" />
<text x="632.60" y="1090.60" font-size="26" text-anchor="start" font-weight="normal" fill="#000" >0</text>
<line x1="620.10" y1="1056.57" x2="625.10" y2="1056.57" stroke="#1a1a1a" stroke-width="1.6" />
<line x1="620.10" y1="1030.14" x2="630.60" y2="1030.14" stroke="#1a1a1a" stroke-width="1.6" />
<text x="632.60" y="1037.74" font-size="26" text-anchor="start" font-weight="normal" fill="#000" >2</text>
<line x1="620.10" y1="1003.71" x2="625.10" y2="1003.71" stroke="#1a1a1a" stroke-width="1.6" />
<line x1="620.10" y1="977.29" x2="630.60" y2="977.29" stroke="#1a1a1a" stroke-width="1.6" />
<text x="632.60" y="984.89" font-size="26" text-anchor="start" font-weight="normal" fill="#000" >4</text>
<line x1="620.10" y1="950.86" x2="625.10" y2="950.86" stroke="#1a1a1a" stroke-width="1.6" />
<line x1="620.10" y1="924.43" x2="630.60" y2="924.43" stroke="#1a1a1a" stroke-width="1.6" />
<text x="632.60" y="932.03" font-size="26" text-anchor="start" font-weight="normal" fill="#000" >6</text>
<line x1="620.10" y1="898.00" x2="625.10" y2="898.00" stroke="#1a1a1a" stroke-width="1.6" />
<text transform="translate(39.4,649.8) rotate(-90)" font-size="29" font-weight="bold">Na<tspan font-size="18.5" dy="7.7">2</tspan><tspan dy="-7.7">O (wt %)</tspan></text>
<text transform="translate(28.9,853.2) rotate(-90)" font-size="29" font-weight="bold">FeO (wt %)</text>
<text transform="translate(24.5,1072.2) rotate(-90)" font-size="29" font-weight="bold">Al<tspan font-size="18.5" dy="7.7">2</tspan><tspan dy="-7.7">O</tspan><tspan font-size="18.5" dy="7.7">3</tspan><tspan dy="-7.7"> (wt %)</tspan></text>
<text transform="translate(675.4,641.7) rotate(-90)" font-size="29" font-weight="bold">K<tspan font-size="18.5" dy="7.7">2</tspan><tspan dy="-7.7">O (wt %)</tspan></text>
<text transform="translate(675.4,859.0) rotate(-90)" font-size="29" font-weight="bold">MgO (wt %)</text>
<text transform="translate(675.4,1065.8) rotate(-90)" font-size="29" font-weight="bold">CaO (wt %)</text>
<text x="281.8" y="1151.2" font-size="29.2" font-weight="bold">SiO<tspan font-size="18.5" dy="7.5">2</tspan><tspan dy="-7.5"> (wt %)</tspan></text>
</svg></body></html>
